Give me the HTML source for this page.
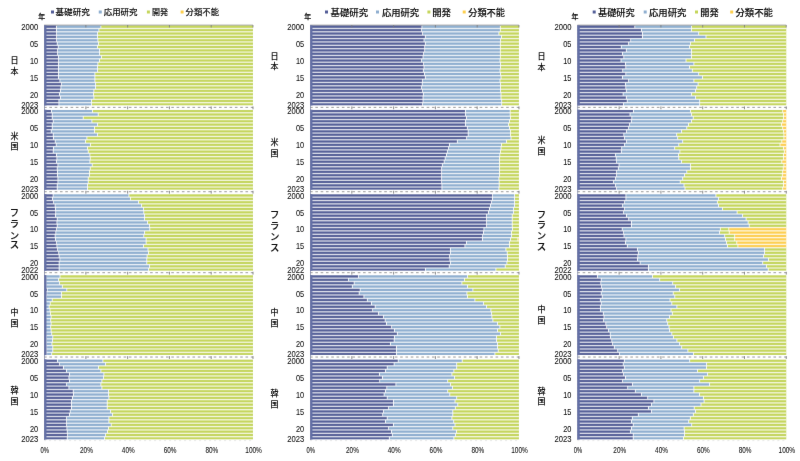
<!DOCTYPE html><html><head><meta charset="utf-8"><style>html,body{margin:0;padding:0;background:#fff;}svg{display:block}.n{font-family:"Liberation Sans",sans-serif;font-size:8.2px;fill:#111;stroke:#111;stroke-width:0.08px}.j{font-family:"Liberation Sans","Noto Sans CJK JP",sans-serif;fill:#111;stroke:#111;stroke-width:0.1px;font-weight:500}</style></head><body>
<svg width="800" height="461" viewBox="0 0 800 461">
<defs><filter id="bl" x="0" y="0" width="800" height="461" filterUnits="userSpaceOnUse"><feConvolveMatrix order="3" kernelMatrix="0.0028 0.0470 0.0028 0.0470 0.8008 0.0470 0.0028 0.0470 0.0028" divisor="1" edgeMode="duplicate" preserveAlpha="true"/></filter><filter id="tb" x="0" y="0" width="800" height="461" filterUnits="userSpaceOnUse"><feConvolveMatrix order="3" kernelMatrix="0.0016 0.0371 0.0016 0.0371 0.8450 0.0371 0.0016 0.0371 0.0016" divisor="1" edgeMode="duplicate" preserveAlpha="false"/></filter></defs>
<g filter="url(#bl)">
<rect width="800" height="461" fill="#fff"/>
<line x1="44.09" y1="25.2" x2="252.99" y2="25.2" stroke="#808080" stroke-width="0.9"/>
<rect x="44.09" y="25.6" width="11.91" height="2.77" fill="#535e98"/>
<rect x="56.8" y="25.6" width="43.7" height="2.77" fill="#8fafd0"/>
<rect x="101.3" y="25.6" width="151.69" height="2.77" fill="#c5d65c"/>
<rect x="44.09" y="28.37" width="11.91" height="3.37" fill="#535e98"/>
<rect x="56.8" y="28.37" width="41.7" height="3.37" fill="#8fafd0"/>
<rect x="99.3" y="28.37" width="153.69" height="3.37" fill="#c5d65c"/>
<rect x="44.09" y="31.75" width="12.11" height="3.37" fill="#535e98"/>
<rect x="57" y="31.75" width="40.2" height="3.37" fill="#8fafd0"/>
<rect x="98" y="31.75" width="154.99" height="3.37" fill="#c5d65c"/>
<rect x="44.09" y="35.12" width="12.11" height="3.37" fill="#535e98"/>
<rect x="57" y="35.12" width="40.2" height="3.37" fill="#8fafd0"/>
<rect x="98" y="35.12" width="154.99" height="3.37" fill="#c5d65c"/>
<rect x="44.09" y="38.5" width="12.11" height="3.37" fill="#535e98"/>
<rect x="57" y="38.5" width="40.5" height="3.37" fill="#8fafd0"/>
<rect x="98.3" y="38.5" width="154.69" height="3.37" fill="#c5d65c"/>
<rect x="44.09" y="41.87" width="12.71" height="3.37" fill="#535e98"/>
<rect x="57.6" y="41.87" width="40.4" height="3.37" fill="#8fafd0"/>
<rect x="98.8" y="41.87" width="154.19" height="3.37" fill="#c5d65c"/>
<rect x="44.09" y="45.24" width="13.71" height="3.37" fill="#535e98"/>
<rect x="58.6" y="45.24" width="38.4" height="3.37" fill="#8fafd0"/>
<rect x="97.8" y="45.24" width="155.19" height="3.37" fill="#c5d65c"/>
<rect x="44.09" y="48.62" width="13.11" height="3.37" fill="#535e98"/>
<rect x="58" y="48.62" width="41.2" height="3.37" fill="#8fafd0"/>
<rect x="100" y="48.62" width="152.99" height="3.37" fill="#c5d65c"/>
<rect x="44.09" y="51.99" width="13.11" height="3.37" fill="#535e98"/>
<rect x="58" y="51.99" width="41.2" height="3.37" fill="#8fafd0"/>
<rect x="100" y="51.99" width="152.99" height="3.37" fill="#c5d65c"/>
<rect x="44.09" y="55.37" width="13.91" height="3.37" fill="#535e98"/>
<rect x="58.8" y="55.37" width="42.2" height="3.37" fill="#8fafd0"/>
<rect x="101.8" y="55.37" width="151.19" height="3.37" fill="#c5d65c"/>
<rect x="44.09" y="58.74" width="14.11" height="3.37" fill="#535e98"/>
<rect x="59" y="58.74" width="40" height="3.37" fill="#8fafd0"/>
<rect x="99.8" y="58.74" width="153.19" height="3.37" fill="#c5d65c"/>
<rect x="44.09" y="62.11" width="13.91" height="3.37" fill="#535e98"/>
<rect x="58.8" y="62.11" width="38.7" height="3.37" fill="#8fafd0"/>
<rect x="98.3" y="62.11" width="154.69" height="3.37" fill="#c5d65c"/>
<rect x="44.09" y="65.49" width="13.91" height="3.37" fill="#535e98"/>
<rect x="58.8" y="65.49" width="38.4" height="3.37" fill="#8fafd0"/>
<rect x="98" y="65.49" width="154.99" height="3.37" fill="#c5d65c"/>
<rect x="44.09" y="68.86" width="13.91" height="3.37" fill="#535e98"/>
<rect x="58.8" y="68.86" width="38.4" height="3.37" fill="#8fafd0"/>
<rect x="98" y="68.86" width="154.99" height="3.37" fill="#c5d65c"/>
<rect x="44.09" y="72.24" width="13.91" height="3.37" fill="#535e98"/>
<rect x="58.8" y="72.24" width="35.7" height="3.37" fill="#8fafd0"/>
<rect x="95.3" y="72.24" width="157.69" height="3.37" fill="#c5d65c"/>
<rect x="44.09" y="75.61" width="13.91" height="3.37" fill="#535e98"/>
<rect x="58.8" y="75.61" width="35.7" height="3.37" fill="#8fafd0"/>
<rect x="95.3" y="75.61" width="157.69" height="3.37" fill="#c5d65c"/>
<rect x="44.09" y="78.98" width="15.41" height="3.37" fill="#535e98"/>
<rect x="60.3" y="78.98" width="34.2" height="3.37" fill="#8fafd0"/>
<rect x="95.3" y="78.98" width="157.69" height="3.37" fill="#c5d65c"/>
<rect x="44.09" y="82.36" width="17.11" height="3.37" fill="#535e98"/>
<rect x="62" y="82.36" width="33.2" height="3.37" fill="#8fafd0"/>
<rect x="96" y="82.36" width="156.99" height="3.37" fill="#c5d65c"/>
<rect x="44.09" y="85.73" width="16.41" height="3.37" fill="#535e98"/>
<rect x="61.3" y="85.73" width="33.9" height="3.37" fill="#8fafd0"/>
<rect x="96" y="85.73" width="156.99" height="3.37" fill="#c5d65c"/>
<rect x="44.09" y="89.11" width="15.91" height="3.37" fill="#535e98"/>
<rect x="60.8" y="89.11" width="32.7" height="3.37" fill="#8fafd0"/>
<rect x="94.3" y="89.11" width="158.69" height="3.37" fill="#c5d65c"/>
<rect x="44.09" y="92.48" width="14.91" height="3.37" fill="#535e98"/>
<rect x="59.8" y="92.48" width="33.2" height="3.37" fill="#8fafd0"/>
<rect x="93.8" y="92.48" width="159.19" height="3.37" fill="#c5d65c"/>
<rect x="44.09" y="95.85" width="15.91" height="3.37" fill="#535e98"/>
<rect x="60.8" y="95.85" width="32.7" height="3.37" fill="#8fafd0"/>
<rect x="94.3" y="95.85" width="158.69" height="3.37" fill="#c5d65c"/>
<rect x="44.09" y="99.23" width="14.41" height="3.37" fill="#535e98"/>
<rect x="59.3" y="99.23" width="31.9" height="3.37" fill="#8fafd0"/>
<rect x="92" y="99.23" width="160.99" height="3.37" fill="#c5d65c"/>
<rect x="44.09" y="102.6" width="14.41" height="2.7" fill="#535e98"/>
<rect x="59.3" y="102.6" width="31.9" height="2.7" fill="#8fafd0"/>
<rect x="92" y="102.6" width="160.99" height="2.7" fill="#c5d65c"/>
<rect x="44.09" y="109.95" width="6.91" height="2.77" fill="#535e98"/>
<rect x="51.8" y="109.95" width="40.2" height="2.77" fill="#8fafd0"/>
<rect x="92.8" y="109.95" width="160.19" height="2.77" fill="#c5d65c"/>
<rect x="44.09" y="112.72" width="7.71" height="3.37" fill="#535e98"/>
<rect x="52.6" y="112.72" width="45.2" height="3.37" fill="#8fafd0"/>
<rect x="98.6" y="112.72" width="154.39" height="3.37" fill="#c5d65c"/>
<rect x="44.09" y="116.1" width="7.71" height="3.37" fill="#535e98"/>
<rect x="52.6" y="116.1" width="30.2" height="3.37" fill="#8fafd0"/>
<rect x="83.6" y="116.1" width="169.39" height="3.37" fill="#c5d65c"/>
<rect x="44.09" y="119.47" width="8.71" height="3.37" fill="#535e98"/>
<rect x="53.6" y="119.47" width="37.9" height="3.37" fill="#8fafd0"/>
<rect x="92.3" y="119.47" width="160.69" height="3.37" fill="#c5d65c"/>
<rect x="44.09" y="122.85" width="7.71" height="3.37" fill="#535e98"/>
<rect x="52.6" y="122.85" width="44.6" height="3.37" fill="#8fafd0"/>
<rect x="98" y="122.85" width="154.99" height="3.37" fill="#c5d65c"/>
<rect x="44.09" y="126.22" width="7.71" height="3.37" fill="#535e98"/>
<rect x="52.6" y="126.22" width="41.4" height="3.37" fill="#8fafd0"/>
<rect x="94.8" y="126.22" width="158.19" height="3.37" fill="#c5d65c"/>
<rect x="44.09" y="129.59" width="6.71" height="3.37" fill="#535e98"/>
<rect x="51.6" y="129.59" width="42.4" height="3.37" fill="#8fafd0"/>
<rect x="94.8" y="129.59" width="158.19" height="3.37" fill="#c5d65c"/>
<rect x="44.09" y="132.97" width="8.71" height="3.37" fill="#535e98"/>
<rect x="53.6" y="132.97" width="43.6" height="3.37" fill="#8fafd0"/>
<rect x="98" y="132.97" width="154.99" height="3.37" fill="#c5d65c"/>
<rect x="44.09" y="136.34" width="8.91" height="3.37" fill="#535e98"/>
<rect x="53.8" y="136.34" width="32.7" height="3.37" fill="#8fafd0"/>
<rect x="87.3" y="136.34" width="165.69" height="3.37" fill="#c5d65c"/>
<rect x="44.09" y="139.72" width="10.71" height="3.37" fill="#535e98"/>
<rect x="55.6" y="139.72" width="29.4" height="3.37" fill="#8fafd0"/>
<rect x="85.8" y="139.72" width="167.19" height="3.37" fill="#c5d65c"/>
<rect x="44.09" y="143.09" width="11.71" height="3.37" fill="#535e98"/>
<rect x="56.6" y="143.09" width="33.4" height="3.37" fill="#8fafd0"/>
<rect x="90.8" y="143.09" width="162.19" height="3.37" fill="#c5d65c"/>
<rect x="44.09" y="146.46" width="8.91" height="3.37" fill="#535e98"/>
<rect x="53.8" y="146.46" width="33.2" height="3.37" fill="#8fafd0"/>
<rect x="87.8" y="146.46" width="165.19" height="3.37" fill="#c5d65c"/>
<rect x="44.09" y="149.84" width="8.71" height="3.37" fill="#535e98"/>
<rect x="53.6" y="149.84" width="34.2" height="3.37" fill="#8fafd0"/>
<rect x="88.6" y="149.84" width="164.39" height="3.37" fill="#c5d65c"/>
<rect x="44.09" y="153.21" width="11.91" height="3.37" fill="#535e98"/>
<rect x="56.8" y="153.21" width="32.7" height="3.37" fill="#8fafd0"/>
<rect x="90.3" y="153.21" width="162.69" height="3.37" fill="#c5d65c"/>
<rect x="44.09" y="156.59" width="12.41" height="3.37" fill="#535e98"/>
<rect x="57.3" y="156.59" width="32.5" height="3.37" fill="#8fafd0"/>
<rect x="90.6" y="156.59" width="162.39" height="3.37" fill="#c5d65c"/>
<rect x="44.09" y="159.96" width="11.91" height="3.37" fill="#535e98"/>
<rect x="56.8" y="159.96" width="32.7" height="3.37" fill="#8fafd0"/>
<rect x="90.3" y="159.96" width="162.69" height="3.37" fill="#c5d65c"/>
<rect x="44.09" y="163.33" width="13.41" height="3.37" fill="#535e98"/>
<rect x="58.3" y="163.33" width="33.5" height="3.37" fill="#8fafd0"/>
<rect x="92.6" y="163.33" width="160.39" height="3.37" fill="#c5d65c"/>
<rect x="44.09" y="166.71" width="12.71" height="3.37" fill="#535e98"/>
<rect x="57.6" y="166.71" width="32.2" height="3.37" fill="#8fafd0"/>
<rect x="90.6" y="166.71" width="162.39" height="3.37" fill="#c5d65c"/>
<rect x="44.09" y="170.08" width="12.91" height="3.37" fill="#535e98"/>
<rect x="57.8" y="170.08" width="31.2" height="3.37" fill="#8fafd0"/>
<rect x="89.8" y="170.08" width="163.19" height="3.37" fill="#c5d65c"/>
<rect x="44.09" y="173.46" width="12.91" height="3.37" fill="#535e98"/>
<rect x="57.8" y="173.46" width="31.2" height="3.37" fill="#8fafd0"/>
<rect x="89.8" y="173.46" width="163.19" height="3.37" fill="#c5d65c"/>
<rect x="44.09" y="176.83" width="13.41" height="3.37" fill="#535e98"/>
<rect x="58.3" y="176.83" width="29.5" height="3.37" fill="#8fafd0"/>
<rect x="88.6" y="176.83" width="164.39" height="3.37" fill="#c5d65c"/>
<rect x="44.09" y="180.2" width="13.41" height="3.37" fill="#535e98"/>
<rect x="58.3" y="180.2" width="29.5" height="3.37" fill="#8fafd0"/>
<rect x="88.6" y="180.2" width="164.39" height="3.37" fill="#c5d65c"/>
<rect x="44.09" y="183.58" width="12.71" height="3.37" fill="#535e98"/>
<rect x="57.6" y="183.58" width="29.6" height="3.37" fill="#8fafd0"/>
<rect x="88" y="183.58" width="164.99" height="3.37" fill="#c5d65c"/>
<rect x="44.09" y="186.95" width="12.71" height="2.7" fill="#535e98"/>
<rect x="57.6" y="186.95" width="29.6" height="2.7" fill="#8fafd0"/>
<rect x="88" y="186.95" width="164.99" height="2.7" fill="#c5d65c"/>
<rect x="44.09" y="194.3" width="8.61" height="2.77" fill="#535e98"/>
<rect x="53.5" y="194.3" width="75" height="2.77" fill="#8fafd0"/>
<rect x="129.3" y="194.3" width="123.69" height="2.77" fill="#c5d65c"/>
<rect x="44.09" y="197.07" width="7.91" height="3.37" fill="#535e98"/>
<rect x="52.8" y="197.07" width="77.2" height="3.37" fill="#8fafd0"/>
<rect x="130.8" y="197.07" width="122.19" height="3.37" fill="#c5d65c"/>
<rect x="44.09" y="200.45" width="9.11" height="3.37" fill="#535e98"/>
<rect x="54" y="200.45" width="84.2" height="3.37" fill="#8fafd0"/>
<rect x="139" y="200.45" width="113.99" height="3.37" fill="#c5d65c"/>
<rect x="44.09" y="203.82" width="10.61" height="3.37" fill="#535e98"/>
<rect x="55.5" y="203.82" width="85.7" height="3.37" fill="#8fafd0"/>
<rect x="142" y="203.82" width="110.99" height="3.37" fill="#c5d65c"/>
<rect x="44.09" y="207.2" width="10.91" height="3.37" fill="#535e98"/>
<rect x="55.8" y="207.2" width="87.3" height="3.37" fill="#8fafd0"/>
<rect x="143.9" y="207.2" width="109.09" height="3.37" fill="#c5d65c"/>
<rect x="44.09" y="210.57" width="11.21" height="3.37" fill="#535e98"/>
<rect x="56.1" y="210.57" width="87.3" height="3.37" fill="#8fafd0"/>
<rect x="144.2" y="210.57" width="108.79" height="3.37" fill="#c5d65c"/>
<rect x="44.09" y="213.94" width="10.91" height="3.37" fill="#535e98"/>
<rect x="55.8" y="213.94" width="88.4" height="3.37" fill="#8fafd0"/>
<rect x="145" y="213.94" width="107.99" height="3.37" fill="#c5d65c"/>
<rect x="44.09" y="217.32" width="12.71" height="3.37" fill="#535e98"/>
<rect x="57.6" y="217.32" width="86.6" height="3.37" fill="#8fafd0"/>
<rect x="145" y="217.32" width="107.99" height="3.37" fill="#c5d65c"/>
<rect x="44.09" y="220.69" width="12.41" height="3.37" fill="#535e98"/>
<rect x="57.3" y="220.69" width="89.9" height="3.37" fill="#8fafd0"/>
<rect x="148" y="220.69" width="104.99" height="3.37" fill="#c5d65c"/>
<rect x="44.09" y="224.07" width="12.71" height="3.37" fill="#535e98"/>
<rect x="57.6" y="224.07" width="91.5" height="3.37" fill="#8fafd0"/>
<rect x="149.9" y="224.07" width="103.09" height="3.37" fill="#c5d65c"/>
<rect x="44.09" y="227.44" width="12.11" height="3.37" fill="#535e98"/>
<rect x="57" y="227.44" width="92.4" height="3.37" fill="#8fafd0"/>
<rect x="150.2" y="227.44" width="102.79" height="3.37" fill="#c5d65c"/>
<rect x="44.09" y="230.81" width="11.31" height="3.37" fill="#535e98"/>
<rect x="56.2" y="230.81" width="88" height="3.37" fill="#8fafd0"/>
<rect x="145" y="230.81" width="107.99" height="3.37" fill="#c5d65c"/>
<rect x="44.09" y="234.19" width="10.61" height="3.37" fill="#535e98"/>
<rect x="55.5" y="234.19" width="87.9" height="3.37" fill="#8fafd0"/>
<rect x="144.2" y="234.19" width="108.79" height="3.37" fill="#c5d65c"/>
<rect x="44.09" y="237.56" width="10.91" height="3.37" fill="#535e98"/>
<rect x="55.8" y="237.56" width="89.9" height="3.37" fill="#8fafd0"/>
<rect x="146.5" y="237.56" width="106.49" height="3.37" fill="#c5d65c"/>
<rect x="44.09" y="240.93" width="12.11" height="3.37" fill="#535e98"/>
<rect x="57" y="240.93" width="88.7" height="3.37" fill="#8fafd0"/>
<rect x="146.5" y="240.93" width="106.49" height="3.37" fill="#c5d65c"/>
<rect x="44.09" y="244.31" width="12.41" height="3.37" fill="#535e98"/>
<rect x="57.3" y="244.31" width="85.8" height="3.37" fill="#8fafd0"/>
<rect x="143.9" y="244.31" width="109.09" height="3.37" fill="#c5d65c"/>
<rect x="44.09" y="247.68" width="13.11" height="3.37" fill="#535e98"/>
<rect x="58" y="247.68" width="89.6" height="3.37" fill="#8fafd0"/>
<rect x="148.4" y="247.68" width="104.59" height="3.37" fill="#c5d65c"/>
<rect x="44.09" y="251.06" width="14.21" height="3.37" fill="#535e98"/>
<rect x="59.1" y="251.06" width="88.9" height="3.37" fill="#8fafd0"/>
<rect x="148.8" y="251.06" width="104.19" height="3.37" fill="#c5d65c"/>
<rect x="44.09" y="254.43" width="14.61" height="3.37" fill="#535e98"/>
<rect x="59.5" y="254.43" width="87.2" height="3.37" fill="#8fafd0"/>
<rect x="147.5" y="254.43" width="105.49" height="3.37" fill="#c5d65c"/>
<rect x="44.09" y="257.8" width="15.41" height="3.37" fill="#535e98"/>
<rect x="60.3" y="257.8" width="86.1" height="3.37" fill="#8fafd0"/>
<rect x="147.2" y="257.8" width="105.79" height="3.37" fill="#c5d65c"/>
<rect x="44.09" y="261.18" width="14.61" height="3.37" fill="#535e98"/>
<rect x="59.5" y="261.18" width="86.9" height="3.37" fill="#8fafd0"/>
<rect x="147.2" y="261.18" width="105.79" height="3.37" fill="#c5d65c"/>
<rect x="44.09" y="264.55" width="14.61" height="3.37" fill="#535e98"/>
<rect x="59.5" y="264.55" width="89.6" height="3.37" fill="#8fafd0"/>
<rect x="149.9" y="264.55" width="103.09" height="3.37" fill="#c5d65c"/>
<rect x="44.09" y="267.93" width="14.61" height="2.7" fill="#535e98"/>
<rect x="59.5" y="267.93" width="88.7" height="2.7" fill="#8fafd0"/>
<rect x="149" y="267.93" width="103.99" height="2.7" fill="#c5d65c"/>
<rect x="44.09" y="275.27" width="1.51" height="2.77" fill="#535e98"/>
<rect x="46.4" y="275.27" width="13.2" height="2.77" fill="#8fafd0"/>
<rect x="60.4" y="275.27" width="192.59" height="2.77" fill="#c5d65c"/>
<rect x="44.09" y="278.05" width="1.41" height="3.37" fill="#535e98"/>
<rect x="46.3" y="278.05" width="11.9" height="3.37" fill="#8fafd0"/>
<rect x="59" y="278.05" width="193.99" height="3.37" fill="#c5d65c"/>
<rect x="44.09" y="281.42" width="1.51" height="3.37" fill="#535e98"/>
<rect x="46.4" y="281.42" width="12.7" height="3.37" fill="#8fafd0"/>
<rect x="59.9" y="281.42" width="193.09" height="3.37" fill="#c5d65c"/>
<rect x="44.09" y="284.8" width="1.51" height="3.37" fill="#535e98"/>
<rect x="46.4" y="284.8" width="15.5" height="3.37" fill="#8fafd0"/>
<rect x="62.7" y="284.8" width="190.29" height="3.37" fill="#c5d65c"/>
<rect x="44.09" y="288.17" width="2.71" height="3.37" fill="#535e98"/>
<rect x="47.6" y="288.17" width="18.8" height="3.37" fill="#8fafd0"/>
<rect x="67.2" y="288.17" width="185.79" height="3.37" fill="#c5d65c"/>
<rect x="44.09" y="291.54" width="2.31" height="3.37" fill="#535e98"/>
<rect x="47.2" y="291.54" width="13.9" height="3.37" fill="#8fafd0"/>
<rect x="61.9" y="291.54" width="191.09" height="3.37" fill="#c5d65c"/>
<rect x="44.09" y="294.92" width="1.71" height="3.37" fill="#535e98"/>
<rect x="46.6" y="294.92" width="14.5" height="3.37" fill="#8fafd0"/>
<rect x="61.9" y="294.92" width="191.09" height="3.37" fill="#c5d65c"/>
<rect x="44.09" y="298.29" width="1.51" height="3.37" fill="#535e98"/>
<rect x="46.4" y="298.29" width="5.4" height="3.37" fill="#8fafd0"/>
<rect x="52.6" y="298.29" width="200.39" height="3.37" fill="#c5d65c"/>
<rect x="44.09" y="301.67" width="1.21" height="3.37" fill="#535e98"/>
<rect x="46.1" y="301.67" width="3.7" height="3.37" fill="#8fafd0"/>
<rect x="50.6" y="301.67" width="202.39" height="3.37" fill="#c5d65c"/>
<rect x="44.09" y="305.04" width="1.21" height="3.37" fill="#535e98"/>
<rect x="46.1" y="305.04" width="2.6" height="3.37" fill="#8fafd0"/>
<rect x="49.5" y="305.04" width="203.49" height="3.37" fill="#c5d65c"/>
<rect x="44.09" y="308.41" width="1.21" height="3.37" fill="#535e98"/>
<rect x="46.1" y="308.41" width="3.5" height="3.37" fill="#8fafd0"/>
<rect x="50.4" y="308.41" width="202.59" height="3.37" fill="#c5d65c"/>
<rect x="44.09" y="311.79" width="1.21" height="3.37" fill="#535e98"/>
<rect x="46.1" y="311.79" width="3.9" height="3.37" fill="#8fafd0"/>
<rect x="50.8" y="311.79" width="202.19" height="3.37" fill="#c5d65c"/>
<rect x="44.09" y="315.16" width="1.21" height="3.37" fill="#535e98"/>
<rect x="46.1" y="315.16" width="4.6" height="3.37" fill="#8fafd0"/>
<rect x="51.5" y="315.16" width="201.49" height="3.37" fill="#c5d65c"/>
<rect x="44.09" y="318.54" width="1.21" height="3.37" fill="#535e98"/>
<rect x="46.1" y="318.54" width="4.2" height="3.37" fill="#8fafd0"/>
<rect x="51.1" y="318.54" width="201.89" height="3.37" fill="#c5d65c"/>
<rect x="44.09" y="321.91" width="1.21" height="3.37" fill="#535e98"/>
<rect x="46.1" y="321.91" width="4.6" height="3.37" fill="#8fafd0"/>
<rect x="51.5" y="321.91" width="201.49" height="3.37" fill="#c5d65c"/>
<rect x="44.09" y="325.28" width="1.21" height="3.37" fill="#535e98"/>
<rect x="46.1" y="325.28" width="4.2" height="3.37" fill="#8fafd0"/>
<rect x="51.1" y="325.28" width="201.89" height="3.37" fill="#c5d65c"/>
<rect x="44.09" y="328.66" width="1.21" height="3.37" fill="#535e98"/>
<rect x="46.1" y="328.66" width="4.6" height="3.37" fill="#8fafd0"/>
<rect x="51.5" y="328.66" width="201.49" height="3.37" fill="#c5d65c"/>
<rect x="44.09" y="332.03" width="1.41" height="3.37" fill="#535e98"/>
<rect x="46.3" y="332.03" width="5" height="3.37" fill="#8fafd0"/>
<rect x="52.1" y="332.03" width="200.89" height="3.37" fill="#c5d65c"/>
<rect x="44.09" y="335.41" width="1.71" height="3.37" fill="#535e98"/>
<rect x="46.6" y="335.41" width="5.8" height="3.37" fill="#8fafd0"/>
<rect x="53.2" y="335.41" width="199.79" height="3.37" fill="#c5d65c"/>
<rect x="44.09" y="338.78" width="1.71" height="3.37" fill="#535e98"/>
<rect x="46.6" y="338.78" width="5.6" height="3.37" fill="#8fafd0"/>
<rect x="53" y="338.78" width="199.99" height="3.37" fill="#c5d65c"/>
<rect x="44.09" y="342.15" width="1.71" height="3.37" fill="#535e98"/>
<rect x="46.6" y="342.15" width="4.9" height="3.37" fill="#8fafd0"/>
<rect x="52.3" y="342.15" width="200.69" height="3.37" fill="#c5d65c"/>
<rect x="44.09" y="345.53" width="2.21" height="3.37" fill="#535e98"/>
<rect x="47.1" y="345.53" width="5.3" height="3.37" fill="#8fafd0"/>
<rect x="53.2" y="345.53" width="199.79" height="3.37" fill="#c5d65c"/>
<rect x="44.09" y="348.9" width="2.21" height="3.37" fill="#535e98"/>
<rect x="47.1" y="348.9" width="5.3" height="3.37" fill="#8fafd0"/>
<rect x="53.2" y="348.9" width="199.79" height="3.37" fill="#c5d65c"/>
<rect x="44.09" y="352.28" width="2.21" height="2.7" fill="#535e98"/>
<rect x="47.1" y="352.28" width="4.2" height="2.7" fill="#8fafd0"/>
<rect x="52.1" y="352.28" width="200.89" height="2.7" fill="#c5d65c"/>
<rect x="44.09" y="359.62" width="12.91" height="2.77" fill="#535e98"/>
<rect x="57.8" y="359.62" width="44.7" height="2.77" fill="#8fafd0"/>
<rect x="103.3" y="359.62" width="149.69" height="2.77" fill="#c5d65c"/>
<rect x="44.09" y="362.4" width="15.11" height="3.37" fill="#535e98"/>
<rect x="60" y="362.4" width="45.2" height="3.37" fill="#8fafd0"/>
<rect x="106" y="362.4" width="146.99" height="3.37" fill="#c5d65c"/>
<rect x="44.09" y="365.77" width="18.91" height="3.37" fill="#535e98"/>
<rect x="63.8" y="365.77" width="34.2" height="3.37" fill="#8fafd0"/>
<rect x="98.8" y="365.77" width="154.19" height="3.37" fill="#c5d65c"/>
<rect x="44.09" y="369.15" width="21.91" height="3.37" fill="#535e98"/>
<rect x="66.8" y="369.15" width="33.7" height="3.37" fill="#8fafd0"/>
<rect x="101.3" y="369.15" width="151.69" height="3.37" fill="#c5d65c"/>
<rect x="44.09" y="372.52" width="24.91" height="3.37" fill="#535e98"/>
<rect x="69.8" y="372.52" width="33.7" height="3.37" fill="#8fafd0"/>
<rect x="104.3" y="372.52" width="148.69" height="3.37" fill="#c5d65c"/>
<rect x="44.09" y="375.89" width="24.41" height="3.37" fill="#535e98"/>
<rect x="69.3" y="375.89" width="33.9" height="3.37" fill="#8fafd0"/>
<rect x="104" y="375.89" width="148.99" height="3.37" fill="#c5d65c"/>
<rect x="44.09" y="379.27" width="24.91" height="3.37" fill="#535e98"/>
<rect x="69.8" y="379.27" width="31.7" height="3.37" fill="#8fafd0"/>
<rect x="102.3" y="379.27" width="150.69" height="3.37" fill="#c5d65c"/>
<rect x="44.09" y="382.64" width="22.11" height="3.37" fill="#535e98"/>
<rect x="67" y="382.64" width="33.5" height="3.37" fill="#8fafd0"/>
<rect x="101.3" y="382.64" width="151.69" height="3.37" fill="#c5d65c"/>
<rect x="44.09" y="386.02" width="24.41" height="3.37" fill="#535e98"/>
<rect x="69.3" y="386.02" width="32.2" height="3.37" fill="#8fafd0"/>
<rect x="102.3" y="386.02" width="150.69" height="3.37" fill="#c5d65c"/>
<rect x="44.09" y="389.39" width="28.71" height="3.37" fill="#535e98"/>
<rect x="73.6" y="389.39" width="34.6" height="3.37" fill="#8fafd0"/>
<rect x="109" y="389.39" width="143.99" height="3.37" fill="#c5d65c"/>
<rect x="44.09" y="392.76" width="28.91" height="3.37" fill="#535e98"/>
<rect x="73.8" y="392.76" width="34.4" height="3.37" fill="#8fafd0"/>
<rect x="109" y="392.76" width="143.99" height="3.37" fill="#c5d65c"/>
<rect x="44.09" y="396.14" width="27.91" height="3.37" fill="#535e98"/>
<rect x="72.8" y="396.14" width="35.7" height="3.37" fill="#8fafd0"/>
<rect x="109.3" y="396.14" width="143.69" height="3.37" fill="#c5d65c"/>
<rect x="44.09" y="399.51" width="26.91" height="3.37" fill="#535e98"/>
<rect x="71.8" y="399.51" width="35" height="3.37" fill="#8fafd0"/>
<rect x="107.6" y="399.51" width="145.39" height="3.37" fill="#c5d65c"/>
<rect x="44.09" y="402.89" width="26.91" height="3.37" fill="#535e98"/>
<rect x="71.8" y="402.89" width="35" height="3.37" fill="#8fafd0"/>
<rect x="107.6" y="402.89" width="145.39" height="3.37" fill="#c5d65c"/>
<rect x="44.09" y="406.26" width="26.91" height="3.37" fill="#535e98"/>
<rect x="71.8" y="406.26" width="35" height="3.37" fill="#8fafd0"/>
<rect x="107.6" y="406.26" width="145.39" height="3.37" fill="#c5d65c"/>
<rect x="44.09" y="409.63" width="25.71" height="3.37" fill="#535e98"/>
<rect x="70.6" y="409.63" width="39.6" height="3.37" fill="#8fafd0"/>
<rect x="111" y="409.63" width="141.99" height="3.37" fill="#c5d65c"/>
<rect x="44.09" y="413.01" width="24.91" height="3.37" fill="#535e98"/>
<rect x="69.8" y="413.01" width="42.2" height="3.37" fill="#8fafd0"/>
<rect x="112.8" y="413.01" width="140.19" height="3.37" fill="#c5d65c"/>
<rect x="44.09" y="416.38" width="22.11" height="3.37" fill="#535e98"/>
<rect x="67" y="416.38" width="41.5" height="3.37" fill="#8fafd0"/>
<rect x="109.3" y="416.38" width="143.69" height="3.37" fill="#c5d65c"/>
<rect x="44.09" y="419.76" width="22.11" height="3.37" fill="#535e98"/>
<rect x="67" y="419.76" width="41.5" height="3.37" fill="#8fafd0"/>
<rect x="109.3" y="419.76" width="143.69" height="3.37" fill="#c5d65c"/>
<rect x="44.09" y="423.13" width="22.11" height="3.37" fill="#535e98"/>
<rect x="67" y="423.13" width="43.8" height="3.37" fill="#8fafd0"/>
<rect x="111.6" y="423.13" width="141.39" height="3.37" fill="#c5d65c"/>
<rect x="44.09" y="426.5" width="22.41" height="3.37" fill="#535e98"/>
<rect x="67.3" y="426.5" width="40.7" height="3.37" fill="#8fafd0"/>
<rect x="108.8" y="426.5" width="144.19" height="3.37" fill="#c5d65c"/>
<rect x="44.09" y="429.88" width="22.71" height="3.37" fill="#535e98"/>
<rect x="67.6" y="429.88" width="39.4" height="3.37" fill="#8fafd0"/>
<rect x="107.8" y="429.88" width="145.19" height="3.37" fill="#c5d65c"/>
<rect x="44.09" y="433.25" width="23.11" height="3.37" fill="#535e98"/>
<rect x="68" y="433.25" width="37.2" height="3.37" fill="#8fafd0"/>
<rect x="106" y="433.25" width="146.99" height="3.37" fill="#c5d65c"/>
<rect x="44.09" y="436.63" width="22.71" height="2.7" fill="#535e98"/>
<rect x="67.6" y="436.63" width="36.6" height="2.7" fill="#8fafd0"/>
<rect x="105" y="436.63" width="147.99" height="2.7" fill="#c5d65c"/>
<rect x="44.09" y="27.8" width="208.9" height="1.35" fill="#fff" fill-opacity="0.7"/>
<rect x="44.09" y="31.17" width="208.9" height="1.35" fill="#fff" fill-opacity="0.7"/>
<rect x="44.09" y="34.55" width="208.9" height="1.35" fill="#fff" fill-opacity="0.7"/>
<rect x="44.09" y="37.92" width="208.9" height="1.35" fill="#fff" fill-opacity="0.7"/>
<rect x="44.09" y="41.29" width="208.9" height="1.35" fill="#fff" fill-opacity="0.7"/>
<rect x="44.09" y="44.67" width="208.9" height="1.35" fill="#fff" fill-opacity="0.7"/>
<rect x="44.09" y="48.04" width="208.9" height="1.35" fill="#fff" fill-opacity="0.7"/>
<rect x="44.09" y="51.42" width="208.9" height="1.35" fill="#fff" fill-opacity="0.7"/>
<rect x="44.09" y="54.79" width="208.9" height="1.35" fill="#fff" fill-opacity="0.7"/>
<rect x="44.09" y="58.16" width="208.9" height="1.35" fill="#fff" fill-opacity="0.7"/>
<rect x="44.09" y="61.54" width="208.9" height="1.35" fill="#fff" fill-opacity="0.7"/>
<rect x="44.09" y="64.91" width="208.9" height="1.35" fill="#fff" fill-opacity="0.7"/>
<rect x="44.09" y="68.29" width="208.9" height="1.35" fill="#fff" fill-opacity="0.7"/>
<rect x="44.09" y="71.66" width="208.9" height="1.35" fill="#fff" fill-opacity="0.7"/>
<rect x="44.09" y="75.03" width="208.9" height="1.35" fill="#fff" fill-opacity="0.7"/>
<rect x="44.09" y="78.41" width="208.9" height="1.35" fill="#fff" fill-opacity="0.7"/>
<rect x="44.09" y="81.78" width="208.9" height="1.35" fill="#fff" fill-opacity="0.7"/>
<rect x="44.09" y="85.16" width="208.9" height="1.35" fill="#fff" fill-opacity="0.7"/>
<rect x="44.09" y="88.53" width="208.9" height="1.35" fill="#fff" fill-opacity="0.7"/>
<rect x="44.09" y="91.9" width="208.9" height="1.35" fill="#fff" fill-opacity="0.7"/>
<rect x="44.09" y="95.28" width="208.9" height="1.35" fill="#fff" fill-opacity="0.7"/>
<rect x="44.09" y="98.65" width="208.9" height="1.35" fill="#fff" fill-opacity="0.7"/>
<rect x="44.09" y="102.03" width="208.9" height="1.35" fill="#fff" fill-opacity="0.7"/>
<rect x="44.09" y="112.15" width="208.9" height="1.35" fill="#fff" fill-opacity="0.7"/>
<rect x="44.09" y="115.52" width="208.9" height="1.35" fill="#fff" fill-opacity="0.7"/>
<rect x="44.09" y="118.9" width="208.9" height="1.35" fill="#fff" fill-opacity="0.7"/>
<rect x="44.09" y="122.27" width="208.9" height="1.35" fill="#fff" fill-opacity="0.7"/>
<rect x="44.09" y="125.64" width="208.9" height="1.35" fill="#fff" fill-opacity="0.7"/>
<rect x="44.09" y="129.02" width="208.9" height="1.35" fill="#fff" fill-opacity="0.7"/>
<rect x="44.09" y="132.39" width="208.9" height="1.35" fill="#fff" fill-opacity="0.7"/>
<rect x="44.09" y="135.77" width="208.9" height="1.35" fill="#fff" fill-opacity="0.7"/>
<rect x="44.09" y="139.14" width="208.9" height="1.35" fill="#fff" fill-opacity="0.7"/>
<rect x="44.09" y="142.51" width="208.9" height="1.35" fill="#fff" fill-opacity="0.7"/>
<rect x="44.09" y="145.89" width="208.9" height="1.35" fill="#fff" fill-opacity="0.7"/>
<rect x="44.09" y="149.26" width="208.9" height="1.35" fill="#fff" fill-opacity="0.7"/>
<rect x="44.09" y="152.64" width="208.9" height="1.35" fill="#fff" fill-opacity="0.7"/>
<rect x="44.09" y="156.01" width="208.9" height="1.35" fill="#fff" fill-opacity="0.7"/>
<rect x="44.09" y="159.38" width="208.9" height="1.35" fill="#fff" fill-opacity="0.7"/>
<rect x="44.09" y="162.76" width="208.9" height="1.35" fill="#fff" fill-opacity="0.7"/>
<rect x="44.09" y="166.13" width="208.9" height="1.35" fill="#fff" fill-opacity="0.7"/>
<rect x="44.09" y="169.51" width="208.9" height="1.35" fill="#fff" fill-opacity="0.7"/>
<rect x="44.09" y="172.88" width="208.9" height="1.35" fill="#fff" fill-opacity="0.7"/>
<rect x="44.09" y="176.25" width="208.9" height="1.35" fill="#fff" fill-opacity="0.7"/>
<rect x="44.09" y="179.63" width="208.9" height="1.35" fill="#fff" fill-opacity="0.7"/>
<rect x="44.09" y="183" width="208.9" height="1.35" fill="#fff" fill-opacity="0.7"/>
<rect x="44.09" y="186.38" width="208.9" height="1.35" fill="#fff" fill-opacity="0.7"/>
<rect x="44.09" y="196.5" width="208.9" height="1.35" fill="#fff" fill-opacity="0.7"/>
<rect x="44.09" y="199.87" width="208.9" height="1.35" fill="#fff" fill-opacity="0.7"/>
<rect x="44.09" y="203.25" width="208.9" height="1.35" fill="#fff" fill-opacity="0.7"/>
<rect x="44.09" y="206.62" width="208.9" height="1.35" fill="#fff" fill-opacity="0.7"/>
<rect x="44.09" y="209.99" width="208.9" height="1.35" fill="#fff" fill-opacity="0.7"/>
<rect x="44.09" y="213.37" width="208.9" height="1.35" fill="#fff" fill-opacity="0.7"/>
<rect x="44.09" y="216.74" width="208.9" height="1.35" fill="#fff" fill-opacity="0.7"/>
<rect x="44.09" y="220.12" width="208.9" height="1.35" fill="#fff" fill-opacity="0.7"/>
<rect x="44.09" y="223.49" width="208.9" height="1.35" fill="#fff" fill-opacity="0.7"/>
<rect x="44.09" y="226.86" width="208.9" height="1.35" fill="#fff" fill-opacity="0.7"/>
<rect x="44.09" y="230.24" width="208.9" height="1.35" fill="#fff" fill-opacity="0.7"/>
<rect x="44.09" y="233.61" width="208.9" height="1.35" fill="#fff" fill-opacity="0.7"/>
<rect x="44.09" y="236.99" width="208.9" height="1.35" fill="#fff" fill-opacity="0.7"/>
<rect x="44.09" y="240.36" width="208.9" height="1.35" fill="#fff" fill-opacity="0.7"/>
<rect x="44.09" y="243.73" width="208.9" height="1.35" fill="#fff" fill-opacity="0.7"/>
<rect x="44.09" y="247.11" width="208.9" height="1.35" fill="#fff" fill-opacity="0.7"/>
<rect x="44.09" y="250.48" width="208.9" height="1.35" fill="#fff" fill-opacity="0.7"/>
<rect x="44.09" y="253.86" width="208.9" height="1.35" fill="#fff" fill-opacity="0.7"/>
<rect x="44.09" y="257.23" width="208.9" height="1.35" fill="#fff" fill-opacity="0.7"/>
<rect x="44.09" y="260.6" width="208.9" height="1.35" fill="#fff" fill-opacity="0.7"/>
<rect x="44.09" y="263.98" width="208.9" height="1.35" fill="#fff" fill-opacity="0.7"/>
<rect x="44.09" y="267.35" width="208.9" height="1.35" fill="#fff" fill-opacity="0.7"/>
<rect x="44.09" y="277.47" width="208.9" height="1.35" fill="#fff" fill-opacity="0.7"/>
<rect x="44.09" y="280.85" width="208.9" height="1.35" fill="#fff" fill-opacity="0.7"/>
<rect x="44.09" y="284.22" width="208.9" height="1.35" fill="#fff" fill-opacity="0.7"/>
<rect x="44.09" y="287.6" width="208.9" height="1.35" fill="#fff" fill-opacity="0.7"/>
<rect x="44.09" y="290.97" width="208.9" height="1.35" fill="#fff" fill-opacity="0.7"/>
<rect x="44.09" y="294.34" width="208.9" height="1.35" fill="#fff" fill-opacity="0.7"/>
<rect x="44.09" y="297.72" width="208.9" height="1.35" fill="#fff" fill-opacity="0.7"/>
<rect x="44.09" y="301.09" width="208.9" height="1.35" fill="#fff" fill-opacity="0.7"/>
<rect x="44.09" y="304.47" width="208.9" height="1.35" fill="#fff" fill-opacity="0.7"/>
<rect x="44.09" y="307.84" width="208.9" height="1.35" fill="#fff" fill-opacity="0.7"/>
<rect x="44.09" y="311.21" width="208.9" height="1.35" fill="#fff" fill-opacity="0.7"/>
<rect x="44.09" y="314.59" width="208.9" height="1.35" fill="#fff" fill-opacity="0.7"/>
<rect x="44.09" y="317.96" width="208.9" height="1.35" fill="#fff" fill-opacity="0.7"/>
<rect x="44.09" y="321.34" width="208.9" height="1.35" fill="#fff" fill-opacity="0.7"/>
<rect x="44.09" y="324.71" width="208.9" height="1.35" fill="#fff" fill-opacity="0.7"/>
<rect x="44.09" y="328.08" width="208.9" height="1.35" fill="#fff" fill-opacity="0.7"/>
<rect x="44.09" y="331.46" width="208.9" height="1.35" fill="#fff" fill-opacity="0.7"/>
<rect x="44.09" y="334.83" width="208.9" height="1.35" fill="#fff" fill-opacity="0.7"/>
<rect x="44.09" y="338.21" width="208.9" height="1.35" fill="#fff" fill-opacity="0.7"/>
<rect x="44.09" y="341.58" width="208.9" height="1.35" fill="#fff" fill-opacity="0.7"/>
<rect x="44.09" y="344.95" width="208.9" height="1.35" fill="#fff" fill-opacity="0.7"/>
<rect x="44.09" y="348.33" width="208.9" height="1.35" fill="#fff" fill-opacity="0.7"/>
<rect x="44.09" y="351.7" width="208.9" height="1.35" fill="#fff" fill-opacity="0.7"/>
<rect x="44.09" y="361.82" width="208.9" height="1.35" fill="#fff" fill-opacity="0.7"/>
<rect x="44.09" y="365.2" width="208.9" height="1.35" fill="#fff" fill-opacity="0.7"/>
<rect x="44.09" y="368.57" width="208.9" height="1.35" fill="#fff" fill-opacity="0.7"/>
<rect x="44.09" y="371.95" width="208.9" height="1.35" fill="#fff" fill-opacity="0.7"/>
<rect x="44.09" y="375.32" width="208.9" height="1.35" fill="#fff" fill-opacity="0.7"/>
<rect x="44.09" y="378.69" width="208.9" height="1.35" fill="#fff" fill-opacity="0.7"/>
<rect x="44.09" y="382.07" width="208.9" height="1.35" fill="#fff" fill-opacity="0.7"/>
<rect x="44.09" y="385.44" width="208.9" height="1.35" fill="#fff" fill-opacity="0.7"/>
<rect x="44.09" y="388.82" width="208.9" height="1.35" fill="#fff" fill-opacity="0.7"/>
<rect x="44.09" y="392.19" width="208.9" height="1.35" fill="#fff" fill-opacity="0.7"/>
<rect x="44.09" y="395.56" width="208.9" height="1.35" fill="#fff" fill-opacity="0.7"/>
<rect x="44.09" y="398.94" width="208.9" height="1.35" fill="#fff" fill-opacity="0.7"/>
<rect x="44.09" y="402.31" width="208.9" height="1.35" fill="#fff" fill-opacity="0.7"/>
<rect x="44.09" y="405.69" width="208.9" height="1.35" fill="#fff" fill-opacity="0.7"/>
<rect x="44.09" y="409.06" width="208.9" height="1.35" fill="#fff" fill-opacity="0.7"/>
<rect x="44.09" y="412.43" width="208.9" height="1.35" fill="#fff" fill-opacity="0.7"/>
<rect x="44.09" y="415.81" width="208.9" height="1.35" fill="#fff" fill-opacity="0.7"/>
<rect x="44.09" y="419.18" width="208.9" height="1.35" fill="#fff" fill-opacity="0.7"/>
<rect x="44.09" y="422.56" width="208.9" height="1.35" fill="#fff" fill-opacity="0.7"/>
<rect x="44.09" y="425.93" width="208.9" height="1.35" fill="#fff" fill-opacity="0.7"/>
<rect x="44.09" y="429.3" width="208.9" height="1.35" fill="#fff" fill-opacity="0.7"/>
<rect x="44.09" y="432.68" width="208.9" height="1.35" fill="#fff" fill-opacity="0.7"/>
<rect x="44.09" y="436.05" width="208.9" height="1.35" fill="#fff" fill-opacity="0.7"/>
<line x1="44.09" y1="107.36" x2="252.99" y2="107.36" stroke="#7e7e7e" stroke-width="0.8" stroke-dasharray="2.6 2.7"/>
<line x1="85.87" y1="106.46" x2="85.87" y2="109.26" stroke="#666" stroke-width="0.8"/>
<line x1="127.65" y1="106.46" x2="127.65" y2="109.26" stroke="#666" stroke-width="0.8"/>
<line x1="169.43" y1="106.46" x2="169.43" y2="109.26" stroke="#666" stroke-width="0.8"/>
<line x1="211.21" y1="106.46" x2="211.21" y2="109.26" stroke="#666" stroke-width="0.8"/>
<line x1="252.99" y1="106.46" x2="252.99" y2="109.26" stroke="#666" stroke-width="0.8"/>
<line x1="44.09" y1="191.71" x2="252.99" y2="191.71" stroke="#7e7e7e" stroke-width="0.8" stroke-dasharray="2.6 2.7"/>
<line x1="85.87" y1="190.81" x2="85.87" y2="193.61" stroke="#666" stroke-width="0.8"/>
<line x1="127.65" y1="190.81" x2="127.65" y2="193.61" stroke="#666" stroke-width="0.8"/>
<line x1="169.43" y1="190.81" x2="169.43" y2="193.61" stroke="#666" stroke-width="0.8"/>
<line x1="211.21" y1="190.81" x2="211.21" y2="193.61" stroke="#666" stroke-width="0.8"/>
<line x1="252.99" y1="190.81" x2="252.99" y2="193.61" stroke="#666" stroke-width="0.8"/>
<line x1="44.09" y1="272.69" x2="252.99" y2="272.69" stroke="#7e7e7e" stroke-width="0.8" stroke-dasharray="2.6 2.7"/>
<line x1="85.87" y1="271.79" x2="85.87" y2="274.59" stroke="#666" stroke-width="0.8"/>
<line x1="127.65" y1="271.79" x2="127.65" y2="274.59" stroke="#666" stroke-width="0.8"/>
<line x1="169.43" y1="271.79" x2="169.43" y2="274.59" stroke="#666" stroke-width="0.8"/>
<line x1="211.21" y1="271.79" x2="211.21" y2="274.59" stroke="#666" stroke-width="0.8"/>
<line x1="252.99" y1="271.79" x2="252.99" y2="274.59" stroke="#666" stroke-width="0.8"/>
<line x1="44.09" y1="357.04" x2="252.99" y2="357.04" stroke="#7e7e7e" stroke-width="0.8" stroke-dasharray="2.6 2.7"/>
<line x1="85.87" y1="356.14" x2="85.87" y2="358.94" stroke="#666" stroke-width="0.8"/>
<line x1="127.65" y1="356.14" x2="127.65" y2="358.94" stroke="#666" stroke-width="0.8"/>
<line x1="169.43" y1="356.14" x2="169.43" y2="358.94" stroke="#666" stroke-width="0.8"/>
<line x1="211.21" y1="356.14" x2="211.21" y2="358.94" stroke="#666" stroke-width="0.8"/>
<line x1="252.99" y1="356.14" x2="252.99" y2="358.94" stroke="#666" stroke-width="0.8"/>
<line x1="44.09" y1="440.6" x2="252.99" y2="440.6" stroke="#dedede" stroke-width="0.7" stroke-dasharray="2 3"/>
<line x1="85.87" y1="25" x2="85.87" y2="27.5" stroke="#777" stroke-width="0.8"/>
<line x1="127.65" y1="25" x2="127.65" y2="27.5" stroke="#777" stroke-width="0.8"/>
<line x1="169.43" y1="25" x2="169.43" y2="27.5" stroke="#777" stroke-width="0.8"/>
<line x1="211.21" y1="25" x2="211.21" y2="27.5" stroke="#777" stroke-width="0.8"/>
<line x1="252.99" y1="25" x2="252.99" y2="27.5" stroke="#777" stroke-width="0.8"/>
<rect x="44.09" y="25" width="0.8" height="415" fill="#8088a8"/>
<rect x="44.09" y="25.4" width="2.4" height="80.08" fill="#6470a6"/>
<rect x="44.09" y="109.65" width="2.4" height="80.18" fill="#6470a6"/>
<rect x="44.09" y="194" width="2.4" height="76.8" fill="#6470a6"/>
<rect x="44.09" y="274.97" width="2.4" height="80.18" fill="#6470a6"/>
<rect x="44.09" y="359.32" width="2.4" height="80.18" fill="#6470a6"/>
<line x1="310.06" y1="25.2" x2="518.96" y2="25.2" stroke="#808080" stroke-width="0.9"/>
<rect x="310.06" y="25.6" width="111.44" height="2.77" fill="#535e98"/>
<rect x="422.3" y="25.6" width="77.6" height="2.77" fill="#8fafd0"/>
<rect x="500.7" y="25.6" width="18.26" height="2.77" fill="#c5d65c"/>
<rect x="310.06" y="28.37" width="111.14" height="3.37" fill="#535e98"/>
<rect x="422" y="28.37" width="77.9" height="3.37" fill="#8fafd0"/>
<rect x="500.7" y="28.37" width="18.26" height="3.37" fill="#c5d65c"/>
<rect x="310.06" y="31.75" width="112.14" height="3.37" fill="#535e98"/>
<rect x="423" y="31.75" width="75.5" height="3.37" fill="#8fafd0"/>
<rect x="499.3" y="31.75" width="19.66" height="3.37" fill="#c5d65c"/>
<rect x="310.06" y="35.12" width="114.84" height="3.37" fill="#535e98"/>
<rect x="425.7" y="35.12" width="75.3" height="3.37" fill="#8fafd0"/>
<rect x="501.8" y="35.12" width="17.16" height="3.37" fill="#c5d65c"/>
<rect x="310.06" y="38.5" width="113.54" height="3.37" fill="#535e98"/>
<rect x="424.4" y="38.5" width="75.8" height="3.37" fill="#8fafd0"/>
<rect x="501" y="38.5" width="17.96" height="3.37" fill="#c5d65c"/>
<rect x="310.06" y="41.87" width="114.84" height="3.37" fill="#535e98"/>
<rect x="425.7" y="41.87" width="74.2" height="3.37" fill="#8fafd0"/>
<rect x="500.7" y="41.87" width="18.26" height="3.37" fill="#c5d65c"/>
<rect x="310.06" y="45.24" width="114.24" height="3.37" fill="#535e98"/>
<rect x="425.1" y="45.24" width="74.8" height="3.37" fill="#8fafd0"/>
<rect x="500.7" y="45.24" width="18.26" height="3.37" fill="#c5d65c"/>
<rect x="310.06" y="48.62" width="114.24" height="3.37" fill="#535e98"/>
<rect x="425.1" y="48.62" width="74.8" height="3.37" fill="#8fafd0"/>
<rect x="500.7" y="48.62" width="18.26" height="3.37" fill="#c5d65c"/>
<rect x="310.06" y="51.99" width="113.14" height="3.37" fill="#535e98"/>
<rect x="424" y="51.99" width="75.9" height="3.37" fill="#8fafd0"/>
<rect x="500.7" y="51.99" width="18.26" height="3.37" fill="#c5d65c"/>
<rect x="310.06" y="55.37" width="112.54" height="3.37" fill="#535e98"/>
<rect x="423.4" y="55.37" width="76.5" height="3.37" fill="#8fafd0"/>
<rect x="500.7" y="55.37" width="18.26" height="3.37" fill="#c5d65c"/>
<rect x="310.06" y="58.74" width="111.14" height="3.37" fill="#535e98"/>
<rect x="422" y="58.74" width="77.6" height="3.37" fill="#8fafd0"/>
<rect x="500.4" y="58.74" width="18.56" height="3.37" fill="#c5d65c"/>
<rect x="310.06" y="62.11" width="113.14" height="3.37" fill="#535e98"/>
<rect x="424" y="62.11" width="76.2" height="3.37" fill="#8fafd0"/>
<rect x="501" y="62.11" width="17.96" height="3.37" fill="#c5d65c"/>
<rect x="310.06" y="65.49" width="113.54" height="3.37" fill="#535e98"/>
<rect x="424.4" y="65.49" width="75.8" height="3.37" fill="#8fafd0"/>
<rect x="501" y="65.49" width="17.96" height="3.37" fill="#c5d65c"/>
<rect x="310.06" y="68.86" width="112.84" height="3.37" fill="#535e98"/>
<rect x="423.7" y="68.86" width="75.9" height="3.37" fill="#8fafd0"/>
<rect x="500.4" y="68.86" width="18.56" height="3.37" fill="#c5d65c"/>
<rect x="310.06" y="72.24" width="113.94" height="3.37" fill="#535e98"/>
<rect x="424.8" y="72.24" width="75.4" height="3.37" fill="#8fafd0"/>
<rect x="501" y="72.24" width="17.96" height="3.37" fill="#c5d65c"/>
<rect x="310.06" y="75.61" width="114.84" height="3.37" fill="#535e98"/>
<rect x="425.7" y="75.61" width="74.9" height="3.37" fill="#8fafd0"/>
<rect x="501.4" y="75.61" width="17.56" height="3.37" fill="#c5d65c"/>
<rect x="310.06" y="78.98" width="112.14" height="3.37" fill="#535e98"/>
<rect x="423" y="78.98" width="76.6" height="3.37" fill="#8fafd0"/>
<rect x="500.4" y="78.98" width="18.56" height="3.37" fill="#c5d65c"/>
<rect x="310.06" y="82.36" width="111.74" height="3.37" fill="#535e98"/>
<rect x="422.6" y="82.36" width="77.6" height="3.37" fill="#8fafd0"/>
<rect x="501" y="82.36" width="17.96" height="3.37" fill="#c5d65c"/>
<rect x="310.06" y="85.73" width="111.14" height="3.37" fill="#535e98"/>
<rect x="422" y="85.73" width="78.2" height="3.37" fill="#8fafd0"/>
<rect x="501" y="85.73" width="17.96" height="3.37" fill="#c5d65c"/>
<rect x="310.06" y="89.11" width="112.14" height="3.37" fill="#535e98"/>
<rect x="423" y="89.11" width="77.2" height="3.37" fill="#8fafd0"/>
<rect x="501" y="89.11" width="17.96" height="3.37" fill="#c5d65c"/>
<rect x="310.06" y="92.48" width="112.84" height="3.37" fill="#535e98"/>
<rect x="423.7" y="92.48" width="76.9" height="3.37" fill="#8fafd0"/>
<rect x="501.4" y="92.48" width="17.56" height="3.37" fill="#c5d65c"/>
<rect x="310.06" y="95.85" width="112.54" height="3.37" fill="#535e98"/>
<rect x="423.4" y="95.85" width="77.2" height="3.37" fill="#8fafd0"/>
<rect x="501.4" y="95.85" width="17.56" height="3.37" fill="#c5d65c"/>
<rect x="310.06" y="99.23" width="112.54" height="3.37" fill="#535e98"/>
<rect x="423.4" y="99.23" width="77.9" height="3.37" fill="#8fafd0"/>
<rect x="502.1" y="99.23" width="16.86" height="3.37" fill="#c5d65c"/>
<rect x="310.06" y="102.6" width="112.14" height="2.7" fill="#535e98"/>
<rect x="423" y="102.6" width="78.3" height="2.7" fill="#8fafd0"/>
<rect x="502.1" y="102.6" width="16.86" height="2.7" fill="#c5d65c"/>
<rect x="310.06" y="109.95" width="154.94" height="2.77" fill="#535e98"/>
<rect x="465.8" y="109.95" width="43.95" height="2.77" fill="#8fafd0"/>
<rect x="510.55" y="109.95" width="8.41" height="2.77" fill="#c5d65c"/>
<rect x="310.06" y="112.72" width="154.94" height="3.37" fill="#535e98"/>
<rect x="465.8" y="112.72" width="43.95" height="3.37" fill="#8fafd0"/>
<rect x="510.55" y="112.72" width="8.41" height="3.37" fill="#c5d65c"/>
<rect x="310.06" y="116.1" width="155.94" height="3.37" fill="#535e98"/>
<rect x="466.8" y="116.1" width="43.2" height="3.37" fill="#8fafd0"/>
<rect x="510.8" y="116.1" width="8.16" height="3.37" fill="#c5d65c"/>
<rect x="310.06" y="119.47" width="154.94" height="3.37" fill="#535e98"/>
<rect x="465.8" y="119.47" width="43.2" height="3.37" fill="#8fafd0"/>
<rect x="509.8" y="119.47" width="9.16" height="3.37" fill="#c5d65c"/>
<rect x="310.06" y="122.85" width="154.94" height="3.37" fill="#535e98"/>
<rect x="465.8" y="122.85" width="42.3" height="3.37" fill="#8fafd0"/>
<rect x="508.9" y="122.85" width="10.06" height="3.37" fill="#c5d65c"/>
<rect x="310.06" y="126.22" width="156.84" height="3.37" fill="#535e98"/>
<rect x="467.7" y="126.22" width="41.3" height="3.37" fill="#8fafd0"/>
<rect x="509.8" y="126.22" width="9.16" height="3.37" fill="#c5d65c"/>
<rect x="310.06" y="129.59" width="157.69" height="3.37" fill="#535e98"/>
<rect x="468.55" y="129.59" width="41.45" height="3.37" fill="#8fafd0"/>
<rect x="510.8" y="129.59" width="8.16" height="3.37" fill="#c5d65c"/>
<rect x="310.06" y="132.97" width="157.69" height="3.37" fill="#535e98"/>
<rect x="468.55" y="132.97" width="41.45" height="3.37" fill="#8fafd0"/>
<rect x="510.8" y="132.97" width="8.16" height="3.37" fill="#c5d65c"/>
<rect x="310.06" y="136.34" width="156.19" height="3.37" fill="#535e98"/>
<rect x="467.05" y="136.34" width="43.55" height="3.37" fill="#8fafd0"/>
<rect x="511.4" y="136.34" width="7.56" height="3.37" fill="#c5d65c"/>
<rect x="310.06" y="139.72" width="146.84" height="3.37" fill="#535e98"/>
<rect x="457.7" y="139.72" width="48.3" height="3.37" fill="#8fafd0"/>
<rect x="506.8" y="139.72" width="12.16" height="3.37" fill="#c5d65c"/>
<rect x="310.06" y="143.09" width="138.94" height="3.37" fill="#535e98"/>
<rect x="449.8" y="143.09" width="51.2" height="3.37" fill="#8fafd0"/>
<rect x="501.8" y="143.09" width="17.16" height="3.37" fill="#c5d65c"/>
<rect x="310.06" y="146.46" width="138.04" height="3.37" fill="#535e98"/>
<rect x="448.9" y="146.46" width="51.7" height="3.37" fill="#8fafd0"/>
<rect x="501.4" y="146.46" width="17.56" height="3.37" fill="#c5d65c"/>
<rect x="310.06" y="149.84" width="136.84" height="3.37" fill="#535e98"/>
<rect x="447.7" y="149.84" width="52.3" height="3.37" fill="#8fafd0"/>
<rect x="500.8" y="149.84" width="18.16" height="3.37" fill="#c5d65c"/>
<rect x="310.06" y="153.21" width="135.94" height="3.37" fill="#535e98"/>
<rect x="446.8" y="153.21" width="52.6" height="3.37" fill="#8fafd0"/>
<rect x="500.2" y="153.21" width="18.76" height="3.37" fill="#c5d65c"/>
<rect x="310.06" y="156.59" width="134.69" height="3.37" fill="#535e98"/>
<rect x="445.55" y="156.59" width="53.45" height="3.37" fill="#8fafd0"/>
<rect x="499.8" y="156.59" width="19.16" height="3.37" fill="#c5d65c"/>
<rect x="310.06" y="159.96" width="133.69" height="3.37" fill="#535e98"/>
<rect x="444.55" y="159.96" width="54.45" height="3.37" fill="#8fafd0"/>
<rect x="499.8" y="159.96" width="19.16" height="3.37" fill="#c5d65c"/>
<rect x="310.06" y="163.33" width="131.84" height="3.37" fill="#535e98"/>
<rect x="442.7" y="163.33" width="56.3" height="3.37" fill="#8fafd0"/>
<rect x="499.8" y="163.33" width="19.16" height="3.37" fill="#c5d65c"/>
<rect x="310.06" y="166.71" width="131.19" height="3.37" fill="#535e98"/>
<rect x="442.05" y="166.71" width="56.95" height="3.37" fill="#8fafd0"/>
<rect x="499.8" y="166.71" width="19.16" height="3.37" fill="#c5d65c"/>
<rect x="310.06" y="170.08" width="131.19" height="3.37" fill="#535e98"/>
<rect x="442.05" y="170.08" width="56.95" height="3.37" fill="#8fafd0"/>
<rect x="499.8" y="170.08" width="19.16" height="3.37" fill="#c5d65c"/>
<rect x="310.06" y="173.46" width="131.19" height="3.37" fill="#535e98"/>
<rect x="442.05" y="173.46" width="56.95" height="3.37" fill="#8fafd0"/>
<rect x="499.8" y="173.46" width="19.16" height="3.37" fill="#c5d65c"/>
<rect x="310.06" y="176.83" width="131.19" height="3.37" fill="#535e98"/>
<rect x="442.05" y="176.83" width="56.45" height="3.37" fill="#8fafd0"/>
<rect x="499.3" y="176.83" width="19.66" height="3.37" fill="#c5d65c"/>
<rect x="310.06" y="180.2" width="131.19" height="3.37" fill="#535e98"/>
<rect x="442.05" y="180.2" width="56.7" height="3.37" fill="#8fafd0"/>
<rect x="499.55" y="180.2" width="19.41" height="3.37" fill="#c5d65c"/>
<rect x="310.06" y="183.58" width="131.44" height="3.37" fill="#535e98"/>
<rect x="442.3" y="183.58" width="56.45" height="3.37" fill="#8fafd0"/>
<rect x="499.55" y="183.58" width="19.41" height="3.37" fill="#c5d65c"/>
<rect x="310.06" y="186.95" width="131.44" height="2.7" fill="#535e98"/>
<rect x="442.3" y="186.95" width="56.2" height="2.7" fill="#8fafd0"/>
<rect x="499.3" y="186.95" width="19.66" height="2.7" fill="#c5d65c"/>
<rect x="310.06" y="194.3" width="182.14" height="2.77" fill="#535e98"/>
<rect x="493" y="194.3" width="21.2" height="2.77" fill="#8fafd0"/>
<rect x="515" y="194.3" width="3.96" height="2.77" fill="#c5d65c"/>
<rect x="310.06" y="197.07" width="181.94" height="3.37" fill="#535e98"/>
<rect x="492.8" y="197.07" width="21.4" height="3.37" fill="#8fafd0"/>
<rect x="515" y="197.07" width="3.96" height="3.37" fill="#c5d65c"/>
<rect x="310.06" y="200.45" width="181.14" height="3.37" fill="#535e98"/>
<rect x="492" y="200.45" width="22.2" height="3.37" fill="#8fafd0"/>
<rect x="515" y="200.45" width="3.96" height="3.37" fill="#c5d65c"/>
<rect x="310.06" y="203.82" width="179.94" height="3.37" fill="#535e98"/>
<rect x="490.8" y="203.82" width="23.4" height="3.37" fill="#8fafd0"/>
<rect x="515" y="203.82" width="3.96" height="3.37" fill="#c5d65c"/>
<rect x="310.06" y="207.2" width="178.94" height="3.37" fill="#535e98"/>
<rect x="489.8" y="207.2" width="23.4" height="3.37" fill="#8fafd0"/>
<rect x="514" y="207.2" width="4.96" height="3.37" fill="#c5d65c"/>
<rect x="310.06" y="210.57" width="177.94" height="3.37" fill="#535e98"/>
<rect x="488.8" y="210.57" width="24.4" height="3.37" fill="#8fafd0"/>
<rect x="514" y="210.57" width="4.96" height="3.37" fill="#c5d65c"/>
<rect x="310.06" y="213.94" width="176.14" height="3.37" fill="#535e98"/>
<rect x="487" y="213.94" width="24.8" height="3.37" fill="#8fafd0"/>
<rect x="512.6" y="213.94" width="6.36" height="3.37" fill="#c5d65c"/>
<rect x="310.06" y="217.32" width="176.14" height="3.37" fill="#535e98"/>
<rect x="487" y="217.32" width="24.8" height="3.37" fill="#8fafd0"/>
<rect x="512.6" y="217.32" width="6.36" height="3.37" fill="#c5d65c"/>
<rect x="310.06" y="220.69" width="176.14" height="3.37" fill="#535e98"/>
<rect x="487" y="220.69" width="24.8" height="3.37" fill="#8fafd0"/>
<rect x="512.6" y="220.69" width="6.36" height="3.37" fill="#c5d65c"/>
<rect x="310.06" y="224.07" width="176.14" height="3.37" fill="#535e98"/>
<rect x="487" y="224.07" width="24.8" height="3.37" fill="#8fafd0"/>
<rect x="512.6" y="224.07" width="6.36" height="3.37" fill="#c5d65c"/>
<rect x="310.06" y="227.44" width="173.44" height="3.37" fill="#535e98"/>
<rect x="484.3" y="227.44" width="27.7" height="3.37" fill="#8fafd0"/>
<rect x="512.8" y="227.44" width="6.16" height="3.37" fill="#c5d65c"/>
<rect x="310.06" y="230.81" width="172.94" height="3.37" fill="#535e98"/>
<rect x="483.8" y="230.81" width="27.2" height="3.37" fill="#8fafd0"/>
<rect x="511.8" y="230.81" width="7.16" height="3.37" fill="#c5d65c"/>
<rect x="310.06" y="234.19" width="172.14" height="3.37" fill="#535e98"/>
<rect x="483" y="234.19" width="28.2" height="3.37" fill="#8fafd0"/>
<rect x="512" y="234.19" width="6.96" height="3.37" fill="#c5d65c"/>
<rect x="310.06" y="237.56" width="171.94" height="3.37" fill="#535e98"/>
<rect x="482.8" y="237.56" width="27.4" height="3.37" fill="#8fafd0"/>
<rect x="511" y="237.56" width="6.5" height="3.37" fill="#c5d65c"/>
<rect x="518.3" y="237.56" width="0.66" height="3.37" fill="#fdcf50"/>
<rect x="310.06" y="240.93" width="155.94" height="3.37" fill="#535e98"/>
<rect x="466.8" y="240.93" width="42.2" height="3.37" fill="#8fafd0"/>
<rect x="509.8" y="240.93" width="9.16" height="3.37" fill="#c5d65c"/>
<rect x="310.06" y="244.31" width="154.44" height="3.37" fill="#535e98"/>
<rect x="465.3" y="244.31" width="43.7" height="3.37" fill="#8fafd0"/>
<rect x="509.8" y="244.31" width="9.16" height="3.37" fill="#c5d65c"/>
<rect x="310.06" y="247.68" width="139.94" height="3.37" fill="#535e98"/>
<rect x="450.8" y="247.68" width="54.7" height="3.37" fill="#8fafd0"/>
<rect x="506.3" y="247.68" width="12.66" height="3.37" fill="#c5d65c"/>
<rect x="310.06" y="251.06" width="139.94" height="3.37" fill="#535e98"/>
<rect x="450.8" y="251.06" width="56" height="3.37" fill="#8fafd0"/>
<rect x="507.6" y="251.06" width="11.36" height="3.37" fill="#c5d65c"/>
<rect x="310.06" y="254.43" width="139.14" height="3.37" fill="#535e98"/>
<rect x="450" y="254.43" width="57" height="3.37" fill="#8fafd0"/>
<rect x="507.8" y="254.43" width="11.16" height="3.37" fill="#c5d65c"/>
<rect x="310.06" y="257.8" width="139.44" height="3.37" fill="#535e98"/>
<rect x="450.3" y="257.8" width="56.7" height="3.37" fill="#8fafd0"/>
<rect x="507.8" y="257.8" width="11.16" height="3.37" fill="#c5d65c"/>
<rect x="310.06" y="261.18" width="139.94" height="3.37" fill="#535e98"/>
<rect x="450.8" y="261.18" width="55.7" height="3.37" fill="#8fafd0"/>
<rect x="507.3" y="261.18" width="11.66" height="3.37" fill="#c5d65c"/>
<rect x="310.06" y="264.55" width="138.74" height="3.37" fill="#535e98"/>
<rect x="449.6" y="264.55" width="55.2" height="3.37" fill="#8fafd0"/>
<rect x="505.6" y="264.55" width="13.36" height="3.37" fill="#c5d65c"/>
<rect x="310.06" y="267.93" width="114.94" height="2.7" fill="#535e98"/>
<rect x="425.8" y="267.93" width="69.7" height="2.7" fill="#8fafd0"/>
<rect x="496.3" y="267.93" width="22.66" height="2.7" fill="#c5d65c"/>
<rect x="310.06" y="275.27" width="48.04" height="2.77" fill="#535e98"/>
<rect x="358.9" y="275.27" width="108.3" height="2.77" fill="#8fafd0"/>
<rect x="468" y="275.27" width="50.96" height="2.77" fill="#c5d65c"/>
<rect x="310.06" y="278.05" width="38.04" height="3.37" fill="#535e98"/>
<rect x="348.9" y="278.05" width="115.1" height="3.37" fill="#8fafd0"/>
<rect x="464.8" y="278.05" width="54.16" height="3.37" fill="#c5d65c"/>
<rect x="310.06" y="281.42" width="43.69" height="3.37" fill="#535e98"/>
<rect x="354.55" y="281.42" width="106.95" height="3.37" fill="#8fafd0"/>
<rect x="462.3" y="281.42" width="56.66" height="3.37" fill="#c5d65c"/>
<rect x="310.06" y="284.8" width="41.84" height="3.37" fill="#535e98"/>
<rect x="352.7" y="284.8" width="114.5" height="3.37" fill="#8fafd0"/>
<rect x="468" y="284.8" width="50.96" height="3.37" fill="#c5d65c"/>
<rect x="310.06" y="288.17" width="49.69" height="3.37" fill="#535e98"/>
<rect x="360.55" y="288.17" width="111.95" height="3.37" fill="#8fafd0"/>
<rect x="473.3" y="288.17" width="45.66" height="3.37" fill="#c5d65c"/>
<rect x="310.06" y="291.54" width="48.69" height="3.37" fill="#535e98"/>
<rect x="359.55" y="291.54" width="106.95" height="3.37" fill="#8fafd0"/>
<rect x="467.3" y="291.54" width="51.66" height="3.37" fill="#c5d65c"/>
<rect x="310.06" y="294.92" width="53.44" height="3.37" fill="#535e98"/>
<rect x="364.3" y="294.92" width="102.7" height="3.37" fill="#8fafd0"/>
<rect x="467.8" y="294.92" width="51.16" height="3.37" fill="#c5d65c"/>
<rect x="310.06" y="298.29" width="56.84" height="3.37" fill="#535e98"/>
<rect x="367.7" y="298.29" width="106.8" height="3.37" fill="#8fafd0"/>
<rect x="475.3" y="298.29" width="43.66" height="3.37" fill="#c5d65c"/>
<rect x="310.06" y="301.67" width="60.94" height="3.37" fill="#535e98"/>
<rect x="371.8" y="301.67" width="111.4" height="3.37" fill="#8fafd0"/>
<rect x="484" y="301.67" width="34.96" height="3.37" fill="#c5d65c"/>
<rect x="310.06" y="305.04" width="64.69" height="3.37" fill="#535e98"/>
<rect x="375.55" y="305.04" width="110.65" height="3.37" fill="#8fafd0"/>
<rect x="487" y="305.04" width="31.96" height="3.37" fill="#c5d65c"/>
<rect x="310.06" y="308.41" width="62.19" height="3.37" fill="#535e98"/>
<rect x="373.05" y="308.41" width="117.45" height="3.37" fill="#8fafd0"/>
<rect x="491.3" y="308.41" width="27.66" height="3.37" fill="#c5d65c"/>
<rect x="310.06" y="311.79" width="68.04" height="3.37" fill="#535e98"/>
<rect x="378.9" y="311.79" width="112.3" height="3.37" fill="#8fafd0"/>
<rect x="492" y="311.79" width="26.96" height="3.37" fill="#c5d65c"/>
<rect x="310.06" y="315.16" width="73.04" height="3.37" fill="#535e98"/>
<rect x="383.9" y="315.16" width="107.6" height="3.37" fill="#8fafd0"/>
<rect x="492.3" y="315.16" width="26.66" height="3.37" fill="#c5d65c"/>
<rect x="310.06" y="318.54" width="74.69" height="3.37" fill="#535e98"/>
<rect x="385.55" y="318.54" width="106.95" height="3.37" fill="#8fafd0"/>
<rect x="493.3" y="318.54" width="25.66" height="3.37" fill="#c5d65c"/>
<rect x="310.06" y="321.91" width="75.94" height="3.37" fill="#535e98"/>
<rect x="386.8" y="321.91" width="110.4" height="3.37" fill="#8fafd0"/>
<rect x="498" y="321.91" width="20.96" height="3.37" fill="#c5d65c"/>
<rect x="310.06" y="325.28" width="81.19" height="3.37" fill="#535e98"/>
<rect x="392.05" y="325.28" width="107.45" height="3.37" fill="#8fafd0"/>
<rect x="500.3" y="325.28" width="18.66" height="3.37" fill="#c5d65c"/>
<rect x="310.06" y="328.66" width="83.94" height="3.37" fill="#535e98"/>
<rect x="394.8" y="328.66" width="102.4" height="3.37" fill="#8fafd0"/>
<rect x="498" y="328.66" width="20.96" height="3.37" fill="#c5d65c"/>
<rect x="310.06" y="332.03" width="86.84" height="3.37" fill="#535e98"/>
<rect x="397.7" y="332.03" width="102.5" height="3.37" fill="#8fafd0"/>
<rect x="501" y="332.03" width="17.96" height="3.37" fill="#c5d65c"/>
<rect x="310.06" y="335.41" width="83.94" height="3.37" fill="#535e98"/>
<rect x="394.8" y="335.41" width="101.4" height="3.37" fill="#8fafd0"/>
<rect x="497" y="335.41" width="21.96" height="3.37" fill="#c5d65c"/>
<rect x="310.06" y="338.78" width="83.69" height="3.37" fill="#535e98"/>
<rect x="394.55" y="338.78" width="101.65" height="3.37" fill="#8fafd0"/>
<rect x="497" y="338.78" width="21.96" height="3.37" fill="#c5d65c"/>
<rect x="310.06" y="342.15" width="79.94" height="3.37" fill="#535e98"/>
<rect x="390.8" y="342.15" width="106.4" height="3.37" fill="#8fafd0"/>
<rect x="498" y="342.15" width="20.96" height="3.37" fill="#c5d65c"/>
<rect x="310.06" y="345.53" width="85.94" height="3.37" fill="#535e98"/>
<rect x="396.8" y="345.53" width="100.4" height="3.37" fill="#8fafd0"/>
<rect x="498" y="345.53" width="20.96" height="3.37" fill="#c5d65c"/>
<rect x="310.06" y="348.9" width="85.94" height="3.37" fill="#535e98"/>
<rect x="396.8" y="348.9" width="101" height="3.37" fill="#8fafd0"/>
<rect x="498.6" y="348.9" width="20.36" height="3.37" fill="#c5d65c"/>
<rect x="310.06" y="352.28" width="85.94" height="2.7" fill="#535e98"/>
<rect x="396.8" y="352.28" width="97.7" height="2.7" fill="#8fafd0"/>
<rect x="495.3" y="352.28" width="23.66" height="2.7" fill="#c5d65c"/>
<rect x="310.06" y="359.62" width="87.74" height="2.77" fill="#535e98"/>
<rect x="398.6" y="359.62" width="63.2" height="2.77" fill="#8fafd0"/>
<rect x="462.6" y="359.62" width="56.36" height="2.77" fill="#c5d65c"/>
<rect x="310.06" y="362.4" width="83.64" height="3.37" fill="#535e98"/>
<rect x="394.5" y="362.4" width="61.8" height="3.37" fill="#8fafd0"/>
<rect x="457.1" y="362.4" width="61.86" height="3.37" fill="#c5d65c"/>
<rect x="310.06" y="365.77" width="76.74" height="3.37" fill="#535e98"/>
<rect x="387.6" y="365.77" width="68.7" height="3.37" fill="#8fafd0"/>
<rect x="457.1" y="365.77" width="61.86" height="3.37" fill="#c5d65c"/>
<rect x="310.06" y="369.15" width="74.94" height="3.37" fill="#535e98"/>
<rect x="385.8" y="369.15" width="67.7" height="3.37" fill="#8fafd0"/>
<rect x="454.3" y="369.15" width="64.66" height="3.37" fill="#c5d65c"/>
<rect x="310.06" y="372.52" width="68.94" height="3.37" fill="#535e98"/>
<rect x="379.8" y="372.52" width="71.7" height="3.37" fill="#8fafd0"/>
<rect x="452.3" y="372.52" width="66.66" height="3.37" fill="#c5d65c"/>
<rect x="310.06" y="375.89" width="71.94" height="3.37" fill="#535e98"/>
<rect x="382.8" y="375.89" width="71.4" height="3.37" fill="#8fafd0"/>
<rect x="455" y="375.89" width="63.96" height="3.37" fill="#c5d65c"/>
<rect x="310.06" y="379.27" width="69.24" height="3.37" fill="#535e98"/>
<rect x="380.1" y="379.27" width="67.2" height="3.37" fill="#8fafd0"/>
<rect x="448.1" y="379.27" width="70.86" height="3.37" fill="#c5d65c"/>
<rect x="310.06" y="382.64" width="85.44" height="3.37" fill="#535e98"/>
<rect x="396.3" y="382.64" width="53.8" height="3.37" fill="#8fafd0"/>
<rect x="450.9" y="382.64" width="68.06" height="3.37" fill="#c5d65c"/>
<rect x="310.06" y="386.02" width="76.34" height="3.37" fill="#535e98"/>
<rect x="387.2" y="386.02" width="65" height="3.37" fill="#8fafd0"/>
<rect x="453" y="386.02" width="65.96" height="3.37" fill="#c5d65c"/>
<rect x="310.06" y="389.39" width="74.94" height="3.37" fill="#535e98"/>
<rect x="385.8" y="389.39" width="61.5" height="3.37" fill="#8fafd0"/>
<rect x="448.1" y="389.39" width="70.86" height="3.37" fill="#c5d65c"/>
<rect x="310.06" y="392.76" width="73.64" height="3.37" fill="#535e98"/>
<rect x="384.5" y="392.76" width="64.9" height="3.37" fill="#8fafd0"/>
<rect x="450.2" y="392.76" width="68.76" height="3.37" fill="#c5d65c"/>
<rect x="310.06" y="396.14" width="76.74" height="3.37" fill="#535e98"/>
<rect x="387.6" y="396.14" width="68.7" height="3.37" fill="#8fafd0"/>
<rect x="457.1" y="396.14" width="61.86" height="3.37" fill="#c5d65c"/>
<rect x="310.06" y="399.51" width="82.94" height="3.37" fill="#535e98"/>
<rect x="393.8" y="399.51" width="60.8" height="3.37" fill="#8fafd0"/>
<rect x="455.4" y="399.51" width="63.56" height="3.37" fill="#c5d65c"/>
<rect x="310.06" y="402.89" width="82.94" height="3.37" fill="#535e98"/>
<rect x="393.8" y="402.89" width="63.6" height="3.37" fill="#8fafd0"/>
<rect x="458.2" y="402.89" width="60.76" height="3.37" fill="#c5d65c"/>
<rect x="310.06" y="406.26" width="78.14" height="3.37" fill="#535e98"/>
<rect x="389" y="406.26" width="65.9" height="3.37" fill="#8fafd0"/>
<rect x="455.7" y="406.26" width="63.26" height="3.37" fill="#c5d65c"/>
<rect x="310.06" y="409.63" width="73.04" height="3.37" fill="#535e98"/>
<rect x="383.9" y="409.63" width="68.5" height="3.37" fill="#8fafd0"/>
<rect x="453.2" y="409.63" width="65.76" height="3.37" fill="#c5d65c"/>
<rect x="310.06" y="413.01" width="72.24" height="3.37" fill="#535e98"/>
<rect x="383.1" y="413.01" width="69.3" height="3.37" fill="#8fafd0"/>
<rect x="453.2" y="413.01" width="65.76" height="3.37" fill="#c5d65c"/>
<rect x="310.06" y="416.38" width="76.74" height="3.37" fill="#535e98"/>
<rect x="387.6" y="416.38" width="63.9" height="3.37" fill="#8fafd0"/>
<rect x="452.3" y="416.38" width="66.66" height="3.37" fill="#c5d65c"/>
<rect x="310.06" y="419.76" width="74.94" height="3.37" fill="#535e98"/>
<rect x="385.8" y="419.76" width="67.5" height="3.37" fill="#8fafd0"/>
<rect x="454.1" y="419.76" width="64.86" height="3.37" fill="#c5d65c"/>
<rect x="310.06" y="423.13" width="82.94" height="3.37" fill="#535e98"/>
<rect x="393.8" y="423.13" width="60.8" height="3.37" fill="#8fafd0"/>
<rect x="455.4" y="423.13" width="63.56" height="3.37" fill="#c5d65c"/>
<rect x="310.06" y="426.5" width="78.14" height="3.37" fill="#535e98"/>
<rect x="389" y="426.5" width="63.4" height="3.37" fill="#8fafd0"/>
<rect x="453.2" y="426.5" width="65.76" height="3.37" fill="#c5d65c"/>
<rect x="310.06" y="429.88" width="80.94" height="3.37" fill="#535e98"/>
<rect x="391.8" y="429.88" width="64.2" height="3.37" fill="#8fafd0"/>
<rect x="456.8" y="429.88" width="62.16" height="3.37" fill="#c5d65c"/>
<rect x="310.06" y="433.25" width="81.84" height="3.37" fill="#535e98"/>
<rect x="392.7" y="433.25" width="62.5" height="3.37" fill="#8fafd0"/>
<rect x="456" y="433.25" width="62.96" height="3.37" fill="#c5d65c"/>
<rect x="310.06" y="436.63" width="78.84" height="2.7" fill="#535e98"/>
<rect x="389.7" y="436.63" width="63.8" height="2.7" fill="#8fafd0"/>
<rect x="454.3" y="436.63" width="64.66" height="2.7" fill="#c5d65c"/>
<rect x="310.06" y="27.8" width="208.9" height="1.35" fill="#fff" fill-opacity="0.7"/>
<rect x="310.06" y="31.17" width="208.9" height="1.35" fill="#fff" fill-opacity="0.7"/>
<rect x="310.06" y="34.55" width="208.9" height="1.35" fill="#fff" fill-opacity="0.7"/>
<rect x="310.06" y="37.92" width="208.9" height="1.35" fill="#fff" fill-opacity="0.7"/>
<rect x="310.06" y="41.29" width="208.9" height="1.35" fill="#fff" fill-opacity="0.7"/>
<rect x="310.06" y="44.67" width="208.9" height="1.35" fill="#fff" fill-opacity="0.7"/>
<rect x="310.06" y="48.04" width="208.9" height="1.35" fill="#fff" fill-opacity="0.7"/>
<rect x="310.06" y="51.42" width="208.9" height="1.35" fill="#fff" fill-opacity="0.7"/>
<rect x="310.06" y="54.79" width="208.9" height="1.35" fill="#fff" fill-opacity="0.7"/>
<rect x="310.06" y="58.16" width="208.9" height="1.35" fill="#fff" fill-opacity="0.7"/>
<rect x="310.06" y="61.54" width="208.9" height="1.35" fill="#fff" fill-opacity="0.7"/>
<rect x="310.06" y="64.91" width="208.9" height="1.35" fill="#fff" fill-opacity="0.7"/>
<rect x="310.06" y="68.29" width="208.9" height="1.35" fill="#fff" fill-opacity="0.7"/>
<rect x="310.06" y="71.66" width="208.9" height="1.35" fill="#fff" fill-opacity="0.7"/>
<rect x="310.06" y="75.03" width="208.9" height="1.35" fill="#fff" fill-opacity="0.7"/>
<rect x="310.06" y="78.41" width="208.9" height="1.35" fill="#fff" fill-opacity="0.7"/>
<rect x="310.06" y="81.78" width="208.9" height="1.35" fill="#fff" fill-opacity="0.7"/>
<rect x="310.06" y="85.16" width="208.9" height="1.35" fill="#fff" fill-opacity="0.7"/>
<rect x="310.06" y="88.53" width="208.9" height="1.35" fill="#fff" fill-opacity="0.7"/>
<rect x="310.06" y="91.9" width="208.9" height="1.35" fill="#fff" fill-opacity="0.7"/>
<rect x="310.06" y="95.28" width="208.9" height="1.35" fill="#fff" fill-opacity="0.7"/>
<rect x="310.06" y="98.65" width="208.9" height="1.35" fill="#fff" fill-opacity="0.7"/>
<rect x="310.06" y="102.03" width="208.9" height="1.35" fill="#fff" fill-opacity="0.7"/>
<rect x="310.06" y="112.15" width="208.9" height="1.35" fill="#fff" fill-opacity="0.7"/>
<rect x="310.06" y="115.52" width="208.9" height="1.35" fill="#fff" fill-opacity="0.7"/>
<rect x="310.06" y="118.9" width="208.9" height="1.35" fill="#fff" fill-opacity="0.7"/>
<rect x="310.06" y="122.27" width="208.9" height="1.35" fill="#fff" fill-opacity="0.7"/>
<rect x="310.06" y="125.64" width="208.9" height="1.35" fill="#fff" fill-opacity="0.7"/>
<rect x="310.06" y="129.02" width="208.9" height="1.35" fill="#fff" fill-opacity="0.7"/>
<rect x="310.06" y="132.39" width="208.9" height="1.35" fill="#fff" fill-opacity="0.7"/>
<rect x="310.06" y="135.77" width="208.9" height="1.35" fill="#fff" fill-opacity="0.7"/>
<rect x="310.06" y="139.14" width="208.9" height="1.35" fill="#fff" fill-opacity="0.7"/>
<rect x="310.06" y="142.51" width="208.9" height="1.35" fill="#fff" fill-opacity="0.7"/>
<rect x="310.06" y="145.89" width="208.9" height="1.35" fill="#fff" fill-opacity="0.7"/>
<rect x="310.06" y="149.26" width="208.9" height="1.35" fill="#fff" fill-opacity="0.7"/>
<rect x="310.06" y="152.64" width="208.9" height="1.35" fill="#fff" fill-opacity="0.7"/>
<rect x="310.06" y="156.01" width="208.9" height="1.35" fill="#fff" fill-opacity="0.7"/>
<rect x="310.06" y="159.38" width="208.9" height="1.35" fill="#fff" fill-opacity="0.7"/>
<rect x="310.06" y="162.76" width="208.9" height="1.35" fill="#fff" fill-opacity="0.7"/>
<rect x="310.06" y="166.13" width="208.9" height="1.35" fill="#fff" fill-opacity="0.7"/>
<rect x="310.06" y="169.51" width="208.9" height="1.35" fill="#fff" fill-opacity="0.7"/>
<rect x="310.06" y="172.88" width="208.9" height="1.35" fill="#fff" fill-opacity="0.7"/>
<rect x="310.06" y="176.25" width="208.9" height="1.35" fill="#fff" fill-opacity="0.7"/>
<rect x="310.06" y="179.63" width="208.9" height="1.35" fill="#fff" fill-opacity="0.7"/>
<rect x="310.06" y="183" width="208.9" height="1.35" fill="#fff" fill-opacity="0.7"/>
<rect x="310.06" y="186.38" width="208.9" height="1.35" fill="#fff" fill-opacity="0.7"/>
<rect x="310.06" y="196.5" width="208.9" height="1.35" fill="#fff" fill-opacity="0.7"/>
<rect x="310.06" y="199.87" width="208.9" height="1.35" fill="#fff" fill-opacity="0.7"/>
<rect x="310.06" y="203.25" width="208.9" height="1.35" fill="#fff" fill-opacity="0.7"/>
<rect x="310.06" y="206.62" width="208.9" height="1.35" fill="#fff" fill-opacity="0.7"/>
<rect x="310.06" y="209.99" width="208.9" height="1.35" fill="#fff" fill-opacity="0.7"/>
<rect x="310.06" y="213.37" width="208.9" height="1.35" fill="#fff" fill-opacity="0.7"/>
<rect x="310.06" y="216.74" width="208.9" height="1.35" fill="#fff" fill-opacity="0.7"/>
<rect x="310.06" y="220.12" width="208.9" height="1.35" fill="#fff" fill-opacity="0.7"/>
<rect x="310.06" y="223.49" width="208.9" height="1.35" fill="#fff" fill-opacity="0.7"/>
<rect x="310.06" y="226.86" width="208.9" height="1.35" fill="#fff" fill-opacity="0.7"/>
<rect x="310.06" y="230.24" width="208.9" height="1.35" fill="#fff" fill-opacity="0.7"/>
<rect x="310.06" y="233.61" width="208.9" height="1.35" fill="#fff" fill-opacity="0.7"/>
<rect x="310.06" y="236.99" width="208.9" height="1.35" fill="#fff" fill-opacity="0.7"/>
<rect x="310.06" y="240.36" width="208.9" height="1.35" fill="#fff" fill-opacity="0.7"/>
<rect x="310.06" y="243.73" width="208.9" height="1.35" fill="#fff" fill-opacity="0.7"/>
<rect x="310.06" y="247.11" width="208.9" height="1.35" fill="#fff" fill-opacity="0.7"/>
<rect x="310.06" y="250.48" width="208.9" height="1.35" fill="#fff" fill-opacity="0.7"/>
<rect x="310.06" y="253.86" width="208.9" height="1.35" fill="#fff" fill-opacity="0.7"/>
<rect x="310.06" y="257.23" width="208.9" height="1.35" fill="#fff" fill-opacity="0.7"/>
<rect x="310.06" y="260.6" width="208.9" height="1.35" fill="#fff" fill-opacity="0.7"/>
<rect x="310.06" y="263.98" width="208.9" height="1.35" fill="#fff" fill-opacity="0.7"/>
<rect x="310.06" y="267.35" width="208.9" height="1.35" fill="#fff" fill-opacity="0.7"/>
<rect x="310.06" y="277.47" width="208.9" height="1.35" fill="#fff" fill-opacity="0.7"/>
<rect x="310.06" y="280.85" width="208.9" height="1.35" fill="#fff" fill-opacity="0.7"/>
<rect x="310.06" y="284.22" width="208.9" height="1.35" fill="#fff" fill-opacity="0.7"/>
<rect x="310.06" y="287.6" width="208.9" height="1.35" fill="#fff" fill-opacity="0.7"/>
<rect x="310.06" y="290.97" width="208.9" height="1.35" fill="#fff" fill-opacity="0.7"/>
<rect x="310.06" y="294.34" width="208.9" height="1.35" fill="#fff" fill-opacity="0.7"/>
<rect x="310.06" y="297.72" width="208.9" height="1.35" fill="#fff" fill-opacity="0.7"/>
<rect x="310.06" y="301.09" width="208.9" height="1.35" fill="#fff" fill-opacity="0.7"/>
<rect x="310.06" y="304.47" width="208.9" height="1.35" fill="#fff" fill-opacity="0.7"/>
<rect x="310.06" y="307.84" width="208.9" height="1.35" fill="#fff" fill-opacity="0.7"/>
<rect x="310.06" y="311.21" width="208.9" height="1.35" fill="#fff" fill-opacity="0.7"/>
<rect x="310.06" y="314.59" width="208.9" height="1.35" fill="#fff" fill-opacity="0.7"/>
<rect x="310.06" y="317.96" width="208.9" height="1.35" fill="#fff" fill-opacity="0.7"/>
<rect x="310.06" y="321.34" width="208.9" height="1.35" fill="#fff" fill-opacity="0.7"/>
<rect x="310.06" y="324.71" width="208.9" height="1.35" fill="#fff" fill-opacity="0.7"/>
<rect x="310.06" y="328.08" width="208.9" height="1.35" fill="#fff" fill-opacity="0.7"/>
<rect x="310.06" y="331.46" width="208.9" height="1.35" fill="#fff" fill-opacity="0.7"/>
<rect x="310.06" y="334.83" width="208.9" height="1.35" fill="#fff" fill-opacity="0.7"/>
<rect x="310.06" y="338.21" width="208.9" height="1.35" fill="#fff" fill-opacity="0.7"/>
<rect x="310.06" y="341.58" width="208.9" height="1.35" fill="#fff" fill-opacity="0.7"/>
<rect x="310.06" y="344.95" width="208.9" height="1.35" fill="#fff" fill-opacity="0.7"/>
<rect x="310.06" y="348.33" width="208.9" height="1.35" fill="#fff" fill-opacity="0.7"/>
<rect x="310.06" y="351.7" width="208.9" height="1.35" fill="#fff" fill-opacity="0.7"/>
<rect x="310.06" y="361.82" width="208.9" height="1.35" fill="#fff" fill-opacity="0.7"/>
<rect x="310.06" y="365.2" width="208.9" height="1.35" fill="#fff" fill-opacity="0.7"/>
<rect x="310.06" y="368.57" width="208.9" height="1.35" fill="#fff" fill-opacity="0.7"/>
<rect x="310.06" y="371.95" width="208.9" height="1.35" fill="#fff" fill-opacity="0.7"/>
<rect x="310.06" y="375.32" width="208.9" height="1.35" fill="#fff" fill-opacity="0.7"/>
<rect x="310.06" y="378.69" width="208.9" height="1.35" fill="#fff" fill-opacity="0.7"/>
<rect x="310.06" y="382.07" width="208.9" height="1.35" fill="#fff" fill-opacity="0.7"/>
<rect x="310.06" y="385.44" width="208.9" height="1.35" fill="#fff" fill-opacity="0.7"/>
<rect x="310.06" y="388.82" width="208.9" height="1.35" fill="#fff" fill-opacity="0.7"/>
<rect x="310.06" y="392.19" width="208.9" height="1.35" fill="#fff" fill-opacity="0.7"/>
<rect x="310.06" y="395.56" width="208.9" height="1.35" fill="#fff" fill-opacity="0.7"/>
<rect x="310.06" y="398.94" width="208.9" height="1.35" fill="#fff" fill-opacity="0.7"/>
<rect x="310.06" y="402.31" width="208.9" height="1.35" fill="#fff" fill-opacity="0.7"/>
<rect x="310.06" y="405.69" width="208.9" height="1.35" fill="#fff" fill-opacity="0.7"/>
<rect x="310.06" y="409.06" width="208.9" height="1.35" fill="#fff" fill-opacity="0.7"/>
<rect x="310.06" y="412.43" width="208.9" height="1.35" fill="#fff" fill-opacity="0.7"/>
<rect x="310.06" y="415.81" width="208.9" height="1.35" fill="#fff" fill-opacity="0.7"/>
<rect x="310.06" y="419.18" width="208.9" height="1.35" fill="#fff" fill-opacity="0.7"/>
<rect x="310.06" y="422.56" width="208.9" height="1.35" fill="#fff" fill-opacity="0.7"/>
<rect x="310.06" y="425.93" width="208.9" height="1.35" fill="#fff" fill-opacity="0.7"/>
<rect x="310.06" y="429.3" width="208.9" height="1.35" fill="#fff" fill-opacity="0.7"/>
<rect x="310.06" y="432.68" width="208.9" height="1.35" fill="#fff" fill-opacity="0.7"/>
<rect x="310.06" y="436.05" width="208.9" height="1.35" fill="#fff" fill-opacity="0.7"/>
<line x1="310.06" y1="107.36" x2="518.96" y2="107.36" stroke="#7e7e7e" stroke-width="0.8" stroke-dasharray="2.6 2.7"/>
<line x1="351.84" y1="106.46" x2="351.84" y2="109.26" stroke="#666" stroke-width="0.8"/>
<line x1="393.62" y1="106.46" x2="393.62" y2="109.26" stroke="#666" stroke-width="0.8"/>
<line x1="435.4" y1="106.46" x2="435.4" y2="109.26" stroke="#666" stroke-width="0.8"/>
<line x1="477.18" y1="106.46" x2="477.18" y2="109.26" stroke="#666" stroke-width="0.8"/>
<line x1="518.96" y1="106.46" x2="518.96" y2="109.26" stroke="#666" stroke-width="0.8"/>
<line x1="310.06" y1="191.71" x2="518.96" y2="191.71" stroke="#7e7e7e" stroke-width="0.8" stroke-dasharray="2.6 2.7"/>
<line x1="351.84" y1="190.81" x2="351.84" y2="193.61" stroke="#666" stroke-width="0.8"/>
<line x1="393.62" y1="190.81" x2="393.62" y2="193.61" stroke="#666" stroke-width="0.8"/>
<line x1="435.4" y1="190.81" x2="435.4" y2="193.61" stroke="#666" stroke-width="0.8"/>
<line x1="477.18" y1="190.81" x2="477.18" y2="193.61" stroke="#666" stroke-width="0.8"/>
<line x1="518.96" y1="190.81" x2="518.96" y2="193.61" stroke="#666" stroke-width="0.8"/>
<line x1="310.06" y1="272.69" x2="518.96" y2="272.69" stroke="#7e7e7e" stroke-width="0.8" stroke-dasharray="2.6 2.7"/>
<line x1="351.84" y1="271.79" x2="351.84" y2="274.59" stroke="#666" stroke-width="0.8"/>
<line x1="393.62" y1="271.79" x2="393.62" y2="274.59" stroke="#666" stroke-width="0.8"/>
<line x1="435.4" y1="271.79" x2="435.4" y2="274.59" stroke="#666" stroke-width="0.8"/>
<line x1="477.18" y1="271.79" x2="477.18" y2="274.59" stroke="#666" stroke-width="0.8"/>
<line x1="518.96" y1="271.79" x2="518.96" y2="274.59" stroke="#666" stroke-width="0.8"/>
<line x1="310.06" y1="357.04" x2="518.96" y2="357.04" stroke="#7e7e7e" stroke-width="0.8" stroke-dasharray="2.6 2.7"/>
<line x1="351.84" y1="356.14" x2="351.84" y2="358.94" stroke="#666" stroke-width="0.8"/>
<line x1="393.62" y1="356.14" x2="393.62" y2="358.94" stroke="#666" stroke-width="0.8"/>
<line x1="435.4" y1="356.14" x2="435.4" y2="358.94" stroke="#666" stroke-width="0.8"/>
<line x1="477.18" y1="356.14" x2="477.18" y2="358.94" stroke="#666" stroke-width="0.8"/>
<line x1="518.96" y1="356.14" x2="518.96" y2="358.94" stroke="#666" stroke-width="0.8"/>
<line x1="310.06" y1="440.6" x2="518.96" y2="440.6" stroke="#dedede" stroke-width="0.7" stroke-dasharray="2 3"/>
<line x1="351.84" y1="25" x2="351.84" y2="27.5" stroke="#777" stroke-width="0.8"/>
<line x1="393.62" y1="25" x2="393.62" y2="27.5" stroke="#777" stroke-width="0.8"/>
<line x1="435.4" y1="25" x2="435.4" y2="27.5" stroke="#777" stroke-width="0.8"/>
<line x1="477.18" y1="25" x2="477.18" y2="27.5" stroke="#777" stroke-width="0.8"/>
<line x1="518.96" y1="25" x2="518.96" y2="27.5" stroke="#777" stroke-width="0.8"/>
<rect x="310.06" y="25" width="0.8" height="415" fill="#8088a8"/>
<rect x="310.06" y="25.4" width="2.4" height="80.08" fill="#6470a6"/>
<rect x="310.06" y="109.65" width="2.4" height="80.18" fill="#6470a6"/>
<rect x="310.06" y="194" width="2.4" height="76.8" fill="#6470a6"/>
<rect x="310.06" y="274.97" width="2.4" height="80.18" fill="#6470a6"/>
<rect x="310.06" y="359.32" width="2.4" height="80.18" fill="#6470a6"/>
<line x1="577.35" y1="25.2" x2="786.25" y2="25.2" stroke="#808080" stroke-width="0.9"/>
<rect x="577.35" y="25.6" width="57.05" height="2.77" fill="#535e98"/>
<rect x="635.2" y="25.6" width="55.9" height="2.77" fill="#8fafd0"/>
<rect x="691.9" y="25.6" width="94.35" height="2.77" fill="#c5d65c"/>
<rect x="577.35" y="28.37" width="63.65" height="3.37" fill="#535e98"/>
<rect x="641.8" y="28.37" width="49.3" height="3.37" fill="#8fafd0"/>
<rect x="691.9" y="28.37" width="94.35" height="3.37" fill="#c5d65c"/>
<rect x="577.35" y="31.75" width="64.65" height="3.37" fill="#535e98"/>
<rect x="642.8" y="31.75" width="55.5" height="3.37" fill="#8fafd0"/>
<rect x="699.1" y="31.75" width="87.15" height="3.37" fill="#c5d65c"/>
<rect x="577.35" y="35.12" width="64.65" height="3.37" fill="#535e98"/>
<rect x="642.8" y="35.12" width="62.8" height="3.37" fill="#8fafd0"/>
<rect x="706.4" y="35.12" width="79.85" height="3.37" fill="#c5d65c"/>
<rect x="577.35" y="38.5" width="52.95" height="3.37" fill="#535e98"/>
<rect x="631.1" y="38.5" width="63.1" height="3.37" fill="#8fafd0"/>
<rect x="695" y="38.5" width="91.25" height="3.37" fill="#c5d65c"/>
<rect x="577.35" y="41.87" width="50.85" height="3.37" fill="#535e98"/>
<rect x="629" y="41.87" width="61.1" height="3.37" fill="#8fafd0"/>
<rect x="690.9" y="41.87" width="95.35" height="3.37" fill="#c5d65c"/>
<rect x="577.35" y="45.24" width="43.55" height="3.37" fill="#535e98"/>
<rect x="621.7" y="45.24" width="67.4" height="3.37" fill="#8fafd0"/>
<rect x="689.9" y="45.24" width="96.35" height="3.37" fill="#c5d65c"/>
<rect x="577.35" y="48.62" width="48.55" height="3.37" fill="#535e98"/>
<rect x="626.7" y="48.62" width="64.4" height="3.37" fill="#8fafd0"/>
<rect x="691.9" y="48.62" width="94.35" height="3.37" fill="#c5d65c"/>
<rect x="577.35" y="51.99" width="44.65" height="3.37" fill="#535e98"/>
<rect x="622.8" y="51.99" width="68.3" height="3.37" fill="#8fafd0"/>
<rect x="691.9" y="51.99" width="94.35" height="3.37" fill="#c5d65c"/>
<rect x="577.35" y="55.37" width="46.05" height="3.37" fill="#535e98"/>
<rect x="624.2" y="55.37" width="66.9" height="3.37" fill="#8fafd0"/>
<rect x="691.9" y="55.37" width="94.35" height="3.37" fill="#c5d65c"/>
<rect x="577.35" y="58.74" width="43.25" height="3.37" fill="#535e98"/>
<rect x="621.4" y="58.74" width="64.2" height="3.37" fill="#8fafd0"/>
<rect x="686.4" y="58.74" width="99.85" height="3.37" fill="#c5d65c"/>
<rect x="577.35" y="62.11" width="47.65" height="3.37" fill="#535e98"/>
<rect x="625.8" y="62.11" width="67.7" height="3.37" fill="#8fafd0"/>
<rect x="694.3" y="62.11" width="91.95" height="3.37" fill="#c5d65c"/>
<rect x="577.35" y="65.49" width="48.05" height="3.37" fill="#535e98"/>
<rect x="626.2" y="65.49" width="62.9" height="3.37" fill="#8fafd0"/>
<rect x="689.9" y="65.49" width="96.35" height="3.37" fill="#c5d65c"/>
<rect x="577.35" y="68.86" width="44.95" height="3.37" fill="#535e98"/>
<rect x="623.1" y="68.86" width="68.8" height="3.37" fill="#8fafd0"/>
<rect x="692.7" y="68.86" width="93.55" height="3.37" fill="#c5d65c"/>
<rect x="577.35" y="72.24" width="48.05" height="3.37" fill="#535e98"/>
<rect x="626.2" y="72.24" width="72.1" height="3.37" fill="#8fafd0"/>
<rect x="699.1" y="72.24" width="87.15" height="3.37" fill="#c5d65c"/>
<rect x="577.35" y="75.61" width="44.65" height="3.37" fill="#535e98"/>
<rect x="622.8" y="75.61" width="79.3" height="3.37" fill="#8fafd0"/>
<rect x="702.9" y="75.61" width="83.35" height="3.37" fill="#c5d65c"/>
<rect x="577.35" y="78.98" width="50.85" height="3.37" fill="#535e98"/>
<rect x="629" y="78.98" width="64.5" height="3.37" fill="#8fafd0"/>
<rect x="694.3" y="78.98" width="91.95" height="3.37" fill="#c5d65c"/>
<rect x="577.35" y="82.36" width="47.65" height="3.37" fill="#535e98"/>
<rect x="625.8" y="82.36" width="71.9" height="3.37" fill="#8fafd0"/>
<rect x="698.5" y="82.36" width="87.75" height="3.37" fill="#c5d65c"/>
<rect x="577.35" y="85.73" width="48.05" height="3.37" fill="#535e98"/>
<rect x="626.2" y="85.73" width="70.1" height="3.37" fill="#8fafd0"/>
<rect x="697.1" y="85.73" width="89.15" height="3.37" fill="#c5d65c"/>
<rect x="577.35" y="89.11" width="48.55" height="3.37" fill="#535e98"/>
<rect x="626.7" y="89.11" width="68.5" height="3.37" fill="#8fafd0"/>
<rect x="696" y="89.11" width="90.25" height="3.37" fill="#c5d65c"/>
<rect x="577.35" y="92.48" width="45.35" height="3.37" fill="#535e98"/>
<rect x="623.5" y="92.48" width="67.6" height="3.37" fill="#8fafd0"/>
<rect x="691.9" y="92.48" width="94.35" height="3.37" fill="#c5d65c"/>
<rect x="577.35" y="95.85" width="48.55" height="3.37" fill="#535e98"/>
<rect x="626.7" y="95.85" width="68.5" height="3.37" fill="#8fafd0"/>
<rect x="696" y="95.85" width="90.25" height="3.37" fill="#c5d65c"/>
<rect x="577.35" y="99.23" width="49.45" height="3.37" fill="#535e98"/>
<rect x="627.6" y="99.23" width="71.7" height="3.37" fill="#8fafd0"/>
<rect x="700.1" y="99.23" width="86.15" height="3.37" fill="#c5d65c"/>
<rect x="577.35" y="102.6" width="45.75" height="2.7" fill="#535e98"/>
<rect x="623.9" y="102.6" width="75.4" height="2.7" fill="#8fafd0"/>
<rect x="700.1" y="102.6" width="86.15" height="2.7" fill="#c5d65c"/>
<rect x="577.35" y="109.95" width="55.65" height="2.77" fill="#535e98"/>
<rect x="633.8" y="109.95" width="56.3" height="2.77" fill="#8fafd0"/>
<rect x="690.9" y="109.95" width="91.4" height="2.77" fill="#c5d65c"/>
<rect x="783.1" y="109.95" width="3.15" height="2.77" fill="#fdcf50"/>
<rect x="577.35" y="112.72" width="52.25" height="3.37" fill="#535e98"/>
<rect x="630.4" y="112.72" width="60.7" height="3.37" fill="#8fafd0"/>
<rect x="691.9" y="112.72" width="91.3" height="3.37" fill="#c5d65c"/>
<rect x="784" y="112.72" width="2.25" height="3.37" fill="#fdcf50"/>
<rect x="577.35" y="116.1" width="54.05" height="3.37" fill="#535e98"/>
<rect x="632.2" y="116.1" width="60.6" height="3.37" fill="#8fafd0"/>
<rect x="693.6" y="116.1" width="89.6" height="3.37" fill="#c5d65c"/>
<rect x="784" y="116.1" width="2.25" height="3.37" fill="#fdcf50"/>
<rect x="577.35" y="119.47" width="53.55" height="3.37" fill="#535e98"/>
<rect x="631.7" y="119.47" width="59.4" height="3.37" fill="#8fafd0"/>
<rect x="691.9" y="119.47" width="90.4" height="3.37" fill="#c5d65c"/>
<rect x="783.1" y="119.47" width="3.15" height="3.37" fill="#fdcf50"/>
<rect x="577.35" y="122.85" width="51.85" height="3.37" fill="#535e98"/>
<rect x="630" y="122.85" width="58" height="3.37" fill="#8fafd0"/>
<rect x="688.8" y="122.85" width="92.2" height="3.37" fill="#c5d65c"/>
<rect x="781.8" y="122.85" width="4.45" height="3.37" fill="#fdcf50"/>
<rect x="577.35" y="126.22" width="50.85" height="3.37" fill="#535e98"/>
<rect x="629" y="126.22" width="57.4" height="3.37" fill="#8fafd0"/>
<rect x="687.2" y="126.22" width="95.1" height="3.37" fill="#c5d65c"/>
<rect x="783.1" y="126.22" width="3.15" height="3.37" fill="#fdcf50"/>
<rect x="577.35" y="129.59" width="48.75" height="3.37" fill="#535e98"/>
<rect x="626.9" y="129.59" width="54.3" height="3.37" fill="#8fafd0"/>
<rect x="682" y="129.59" width="101.2" height="3.37" fill="#c5d65c"/>
<rect x="784" y="129.59" width="2.25" height="3.37" fill="#fdcf50"/>
<rect x="577.35" y="132.97" width="46.05" height="3.37" fill="#535e98"/>
<rect x="624.2" y="132.97" width="52.1" height="3.37" fill="#8fafd0"/>
<rect x="677.1" y="132.97" width="106.4" height="3.37" fill="#c5d65c"/>
<rect x="784.3" y="132.97" width="1.95" height="3.37" fill="#fdcf50"/>
<rect x="577.35" y="136.34" width="46.75" height="3.37" fill="#535e98"/>
<rect x="624.9" y="136.34" width="52.4" height="3.37" fill="#8fafd0"/>
<rect x="678.1" y="136.34" width="105.4" height="3.37" fill="#c5d65c"/>
<rect x="784.3" y="136.34" width="1.95" height="3.37" fill="#fdcf50"/>
<rect x="577.35" y="139.72" width="48.75" height="3.37" fill="#535e98"/>
<rect x="626.9" y="139.72" width="55.4" height="3.37" fill="#8fafd0"/>
<rect x="683.1" y="139.72" width="98.3" height="3.37" fill="#c5d65c"/>
<rect x="782.2" y="139.72" width="4.05" height="3.37" fill="#fdcf50"/>
<rect x="577.35" y="143.09" width="46.75" height="3.37" fill="#535e98"/>
<rect x="624.9" y="143.09" width="53.5" height="3.37" fill="#8fafd0"/>
<rect x="679.2" y="143.09" width="100.4" height="3.37" fill="#c5d65c"/>
<rect x="780.4" y="143.09" width="5.85" height="3.37" fill="#fdcf50"/>
<rect x="577.35" y="146.46" width="43.95" height="3.37" fill="#535e98"/>
<rect x="622.1" y="146.46" width="52.2" height="3.37" fill="#8fafd0"/>
<rect x="675.1" y="146.46" width="107.9" height="3.37" fill="#c5d65c"/>
<rect x="783.8" y="146.46" width="2.45" height="3.37" fill="#fdcf50"/>
<rect x="577.35" y="149.84" width="43.55" height="3.37" fill="#535e98"/>
<rect x="621.7" y="149.84" width="57.8" height="3.37" fill="#8fafd0"/>
<rect x="680.3" y="149.84" width="103.6" height="3.37" fill="#c5d65c"/>
<rect x="784.7" y="149.84" width="1.55" height="3.37" fill="#fdcf50"/>
<rect x="577.35" y="153.21" width="37.75" height="3.37" fill="#535e98"/>
<rect x="615.9" y="153.21" width="62.2" height="3.37" fill="#8fafd0"/>
<rect x="678.9" y="153.21" width="104.3" height="3.37" fill="#c5d65c"/>
<rect x="784" y="153.21" width="2.25" height="3.37" fill="#fdcf50"/>
<rect x="577.35" y="156.59" width="38.45" height="3.37" fill="#535e98"/>
<rect x="616.6" y="156.59" width="61.8" height="3.37" fill="#8fafd0"/>
<rect x="679.2" y="156.59" width="104" height="3.37" fill="#c5d65c"/>
<rect x="784" y="156.59" width="2.25" height="3.37" fill="#fdcf50"/>
<rect x="577.35" y="159.96" width="38.85" height="3.37" fill="#535e98"/>
<rect x="617" y="159.96" width="64.2" height="3.37" fill="#8fafd0"/>
<rect x="682" y="159.96" width="99.4" height="3.37" fill="#c5d65c"/>
<rect x="782.2" y="159.96" width="4.05" height="3.37" fill="#fdcf50"/>
<rect x="577.35" y="163.33" width="41.25" height="3.37" fill="#535e98"/>
<rect x="619.4" y="163.33" width="70.7" height="3.37" fill="#8fafd0"/>
<rect x="690.9" y="163.33" width="92.6" height="3.37" fill="#c5d65c"/>
<rect x="784.3" y="163.33" width="1.95" height="3.37" fill="#fdcf50"/>
<rect x="577.35" y="166.71" width="40.55" height="3.37" fill="#535e98"/>
<rect x="618.7" y="166.71" width="71.4" height="3.37" fill="#8fafd0"/>
<rect x="690.9" y="166.71" width="91.9" height="3.37" fill="#c5d65c"/>
<rect x="783.6" y="166.71" width="2.65" height="3.37" fill="#fdcf50"/>
<rect x="577.35" y="170.08" width="38.85" height="3.37" fill="#535e98"/>
<rect x="617" y="170.08" width="69.4" height="3.37" fill="#8fafd0"/>
<rect x="687.2" y="170.08" width="95.1" height="3.37" fill="#c5d65c"/>
<rect x="783.1" y="170.08" width="3.15" height="3.37" fill="#fdcf50"/>
<rect x="577.35" y="173.46" width="38.85" height="3.37" fill="#535e98"/>
<rect x="617" y="173.46" width="67.2" height="3.37" fill="#8fafd0"/>
<rect x="685" y="173.46" width="96.9" height="3.37" fill="#c5d65c"/>
<rect x="782.7" y="173.46" width="3.55" height="3.37" fill="#fdcf50"/>
<rect x="577.35" y="176.83" width="37.75" height="3.37" fill="#535e98"/>
<rect x="615.9" y="176.83" width="66.4" height="3.37" fill="#8fafd0"/>
<rect x="683.1" y="176.83" width="97.9" height="3.37" fill="#c5d65c"/>
<rect x="781.8" y="176.83" width="4.45" height="3.37" fill="#fdcf50"/>
<rect x="577.35" y="180.2" width="35.75" height="3.37" fill="#535e98"/>
<rect x="613.9" y="180.2" width="65.9" height="3.37" fill="#8fafd0"/>
<rect x="680.6" y="180.2" width="102.6" height="3.37" fill="#c5d65c"/>
<rect x="784" y="180.2" width="2.25" height="3.37" fill="#fdcf50"/>
<rect x="577.35" y="183.58" width="37.75" height="3.37" fill="#535e98"/>
<rect x="615.9" y="183.58" width="67.7" height="3.37" fill="#8fafd0"/>
<rect x="684.4" y="183.58" width="98.6" height="3.37" fill="#c5d65c"/>
<rect x="783.8" y="183.58" width="2.45" height="3.37" fill="#fdcf50"/>
<rect x="577.35" y="186.95" width="38.85" height="2.7" fill="#535e98"/>
<rect x="617" y="186.95" width="67.6" height="2.7" fill="#8fafd0"/>
<rect x="685.4" y="186.95" width="96.9" height="2.7" fill="#c5d65c"/>
<rect x="783.1" y="186.95" width="3.15" height="2.7" fill="#fdcf50"/>
<rect x="577.35" y="194.3" width="48.15" height="2.77" fill="#535e98"/>
<rect x="626.3" y="194.3" width="89.2" height="2.77" fill="#8fafd0"/>
<rect x="716.3" y="194.3" width="69.95" height="2.77" fill="#c5d65c"/>
<rect x="577.35" y="197.07" width="48.15" height="3.37" fill="#535e98"/>
<rect x="626.3" y="197.07" width="91.9" height="3.37" fill="#8fafd0"/>
<rect x="719" y="197.07" width="67.25" height="3.37" fill="#c5d65c"/>
<rect x="577.35" y="200.45" width="46.85" height="3.37" fill="#535e98"/>
<rect x="625" y="200.45" width="91.9" height="3.37" fill="#8fafd0"/>
<rect x="717.7" y="200.45" width="68.55" height="3.37" fill="#c5d65c"/>
<rect x="577.35" y="203.82" width="44.85" height="3.37" fill="#535e98"/>
<rect x="623" y="203.82" width="95.2" height="3.37" fill="#8fafd0"/>
<rect x="719" y="203.82" width="67.25" height="3.37" fill="#c5d65c"/>
<rect x="577.35" y="207.2" width="46.85" height="3.37" fill="#535e98"/>
<rect x="625" y="207.2" width="97" height="3.37" fill="#8fafd0"/>
<rect x="722.8" y="207.2" width="63.45" height="3.37" fill="#c5d65c"/>
<rect x="577.35" y="210.57" width="45.85" height="3.37" fill="#535e98"/>
<rect x="624" y="210.57" width="112.7" height="3.37" fill="#8fafd0"/>
<rect x="737.5" y="210.57" width="48.75" height="3.37" fill="#c5d65c"/>
<rect x="577.35" y="213.94" width="48.65" height="3.37" fill="#535e98"/>
<rect x="626.8" y="213.94" width="115.4" height="3.37" fill="#8fafd0"/>
<rect x="743" y="213.94" width="43.25" height="3.37" fill="#c5d65c"/>
<rect x="577.35" y="217.32" width="50.95" height="3.37" fill="#535e98"/>
<rect x="629.1" y="217.32" width="116.6" height="3.37" fill="#8fafd0"/>
<rect x="746.5" y="217.32" width="39.75" height="3.37" fill="#c5d65c"/>
<rect x="577.35" y="220.69" width="53.65" height="3.37" fill="#535e98"/>
<rect x="631.8" y="220.69" width="115.9" height="3.37" fill="#8fafd0"/>
<rect x="748.5" y="220.69" width="37.75" height="3.37" fill="#c5d65c"/>
<rect x="577.35" y="224.07" width="53.65" height="3.37" fill="#535e98"/>
<rect x="631.8" y="224.07" width="117" height="3.37" fill="#8fafd0"/>
<rect x="749.6" y="224.07" width="36.65" height="3.37" fill="#c5d65c"/>
<rect x="577.35" y="227.44" width="44.45" height="3.37" fill="#535e98"/>
<rect x="622.6" y="227.44" width="97.3" height="3.37" fill="#8fafd0"/>
<rect x="720.7" y="227.44" width="7.7" height="3.37" fill="#c5d65c"/>
<rect x="729.2" y="227.44" width="57.05" height="3.37" fill="#fdcf50"/>
<rect x="577.35" y="230.81" width="45.85" height="3.37" fill="#535e98"/>
<rect x="624" y="230.81" width="95.2" height="3.37" fill="#8fafd0"/>
<rect x="720" y="230.81" width="8.8" height="3.37" fill="#c5d65c"/>
<rect x="729.6" y="230.81" width="56.65" height="3.37" fill="#fdcf50"/>
<rect x="577.35" y="234.19" width="46.25" height="3.37" fill="#535e98"/>
<rect x="624.4" y="234.19" width="99.9" height="3.37" fill="#8fafd0"/>
<rect x="725.1" y="234.19" width="9.2" height="3.37" fill="#c5d65c"/>
<rect x="735.1" y="234.19" width="51.15" height="3.37" fill="#fdcf50"/>
<rect x="577.35" y="237.56" width="48.15" height="3.37" fill="#535e98"/>
<rect x="626.3" y="237.56" width="98.8" height="3.37" fill="#8fafd0"/>
<rect x="725.9" y="237.56" width="8.4" height="3.37" fill="#c5d65c"/>
<rect x="735.1" y="237.56" width="51.15" height="3.37" fill="#fdcf50"/>
<rect x="577.35" y="240.93" width="47.65" height="3.37" fill="#535e98"/>
<rect x="625.8" y="240.93" width="100.3" height="3.37" fill="#8fafd0"/>
<rect x="726.9" y="240.93" width="9.5" height="3.37" fill="#c5d65c"/>
<rect x="737.2" y="240.93" width="49.05" height="3.37" fill="#fdcf50"/>
<rect x="577.35" y="244.31" width="49.55" height="3.37" fill="#535e98"/>
<rect x="627.7" y="244.31" width="99.3" height="3.37" fill="#8fafd0"/>
<rect x="727.8" y="244.31" width="9.7" height="3.37" fill="#c5d65c"/>
<rect x="738.3" y="244.31" width="47.95" height="3.37" fill="#fdcf50"/>
<rect x="577.35" y="247.68" width="59.65" height="3.37" fill="#535e98"/>
<rect x="637.8" y="247.68" width="126.4" height="3.37" fill="#8fafd0"/>
<rect x="765" y="247.68" width="21.25" height="3.37" fill="#c5d65c"/>
<rect x="577.35" y="251.06" width="60.55" height="3.37" fill="#535e98"/>
<rect x="638.7" y="251.06" width="125.5" height="3.37" fill="#8fafd0"/>
<rect x="765" y="251.06" width="21.25" height="3.37" fill="#c5d65c"/>
<rect x="577.35" y="254.43" width="60.05" height="3.37" fill="#535e98"/>
<rect x="638.2" y="254.43" width="125" height="3.37" fill="#8fafd0"/>
<rect x="764" y="254.43" width="22.25" height="3.37" fill="#c5d65c"/>
<rect x="577.35" y="257.8" width="59.65" height="3.37" fill="#535e98"/>
<rect x="637.8" y="257.8" width="130.2" height="3.37" fill="#8fafd0"/>
<rect x="768.8" y="257.8" width="17.45" height="3.37" fill="#c5d65c"/>
<rect x="577.35" y="261.18" width="62.35" height="3.37" fill="#535e98"/>
<rect x="640.5" y="261.18" width="121.8" height="3.37" fill="#8fafd0"/>
<rect x="763.1" y="261.18" width="23.15" height="3.37" fill="#c5d65c"/>
<rect x="577.35" y="264.55" width="70.65" height="3.37" fill="#535e98"/>
<rect x="648.8" y="264.55" width="117.2" height="3.37" fill="#8fafd0"/>
<rect x="766.8" y="264.55" width="19.45" height="3.37" fill="#c5d65c"/>
<rect x="577.35" y="267.93" width="70.65" height="2.7" fill="#535e98"/>
<rect x="648.8" y="267.93" width="119" height="2.7" fill="#8fafd0"/>
<rect x="768.6" y="267.93" width="17.65" height="2.7" fill="#c5d65c"/>
<rect x="577.35" y="275.27" width="19.75" height="2.77" fill="#535e98"/>
<rect x="597.9" y="275.27" width="54.2" height="2.77" fill="#8fafd0"/>
<rect x="652.9" y="275.27" width="133.35" height="2.77" fill="#c5d65c"/>
<rect x="577.35" y="278.05" width="23.45" height="3.37" fill="#535e98"/>
<rect x="601.6" y="278.05" width="57.7" height="3.37" fill="#8fafd0"/>
<rect x="660.1" y="278.05" width="126.15" height="3.37" fill="#c5d65c"/>
<rect x="577.35" y="281.42" width="23.05" height="3.37" fill="#535e98"/>
<rect x="601.2" y="281.42" width="71.1" height="3.37" fill="#8fafd0"/>
<rect x="673.1" y="281.42" width="113.15" height="3.37" fill="#c5d65c"/>
<rect x="577.35" y="284.8" width="23.85" height="3.37" fill="#535e98"/>
<rect x="602" y="284.8" width="73.1" height="3.37" fill="#8fafd0"/>
<rect x="675.9" y="284.8" width="110.35" height="3.37" fill="#c5d65c"/>
<rect x="577.35" y="288.17" width="24.45" height="3.37" fill="#535e98"/>
<rect x="602.6" y="288.17" width="76.6" height="3.37" fill="#8fafd0"/>
<rect x="680" y="288.17" width="106.25" height="3.37" fill="#c5d65c"/>
<rect x="577.35" y="291.54" width="23.45" height="3.37" fill="#535e98"/>
<rect x="601.6" y="291.54" width="71.2" height="3.37" fill="#8fafd0"/>
<rect x="673.6" y="291.54" width="112.65" height="3.37" fill="#c5d65c"/>
<rect x="577.35" y="294.92" width="24.45" height="3.37" fill="#535e98"/>
<rect x="602.6" y="294.92" width="71.8" height="3.37" fill="#8fafd0"/>
<rect x="675.2" y="294.92" width="111.05" height="3.37" fill="#c5d65c"/>
<rect x="577.35" y="298.29" width="22.55" height="3.37" fill="#535e98"/>
<rect x="600.7" y="298.29" width="68.9" height="3.37" fill="#8fafd0"/>
<rect x="670.4" y="298.29" width="115.85" height="3.37" fill="#c5d65c"/>
<rect x="577.35" y="301.67" width="23.45" height="3.37" fill="#535e98"/>
<rect x="601.6" y="301.67" width="69.8" height="3.37" fill="#8fafd0"/>
<rect x="672.2" y="301.67" width="114.05" height="3.37" fill="#c5d65c"/>
<rect x="577.35" y="305.04" width="22.75" height="3.37" fill="#535e98"/>
<rect x="600.9" y="305.04" width="75.6" height="3.37" fill="#8fafd0"/>
<rect x="677.3" y="305.04" width="108.95" height="3.37" fill="#c5d65c"/>
<rect x="577.35" y="308.41" width="22.75" height="3.37" fill="#535e98"/>
<rect x="600.9" y="308.41" width="69.7" height="3.37" fill="#8fafd0"/>
<rect x="671.4" y="308.41" width="114.85" height="3.37" fill="#c5d65c"/>
<rect x="577.35" y="311.79" width="25.55" height="3.37" fill="#535e98"/>
<rect x="603.7" y="311.79" width="68.2" height="3.37" fill="#8fafd0"/>
<rect x="672.7" y="311.79" width="113.55" height="3.37" fill="#c5d65c"/>
<rect x="577.35" y="315.16" width="26.25" height="3.37" fill="#535e98"/>
<rect x="604.4" y="315.16" width="64.8" height="3.37" fill="#8fafd0"/>
<rect x="670" y="315.16" width="116.25" height="3.37" fill="#c5d65c"/>
<rect x="577.35" y="318.54" width="25.85" height="3.37" fill="#535e98"/>
<rect x="604" y="318.54" width="62.4" height="3.37" fill="#8fafd0"/>
<rect x="667.2" y="318.54" width="119.05" height="3.37" fill="#c5d65c"/>
<rect x="577.35" y="321.91" width="28.05" height="3.37" fill="#535e98"/>
<rect x="606.2" y="321.91" width="61.1" height="3.37" fill="#8fafd0"/>
<rect x="668.1" y="321.91" width="118.15" height="3.37" fill="#c5d65c"/>
<rect x="577.35" y="325.28" width="28.95" height="3.37" fill="#535e98"/>
<rect x="607.1" y="325.28" width="61.5" height="3.37" fill="#8fafd0"/>
<rect x="669.4" y="325.28" width="116.85" height="3.37" fill="#c5d65c"/>
<rect x="577.35" y="328.66" width="30.75" height="3.37" fill="#535e98"/>
<rect x="608.9" y="328.66" width="60.3" height="3.37" fill="#8fafd0"/>
<rect x="670" y="328.66" width="116.25" height="3.37" fill="#c5d65c"/>
<rect x="577.35" y="332.03" width="32.45" height="3.37" fill="#535e98"/>
<rect x="610.6" y="332.03" width="60.8" height="3.37" fill="#8fafd0"/>
<rect x="672.2" y="332.03" width="114.05" height="3.37" fill="#c5d65c"/>
<rect x="577.35" y="335.41" width="32.65" height="3.37" fill="#535e98"/>
<rect x="610.8" y="335.41" width="62.2" height="3.37" fill="#8fafd0"/>
<rect x="673.8" y="335.41" width="112.45" height="3.37" fill="#c5d65c"/>
<rect x="577.35" y="338.78" width="34.05" height="3.37" fill="#535e98"/>
<rect x="612.2" y="338.78" width="64.3" height="3.37" fill="#8fafd0"/>
<rect x="677.3" y="338.78" width="108.95" height="3.37" fill="#c5d65c"/>
<rect x="577.35" y="342.15" width="34.85" height="3.37" fill="#535e98"/>
<rect x="613" y="342.15" width="66.2" height="3.37" fill="#8fafd0"/>
<rect x="680" y="342.15" width="106.25" height="3.37" fill="#c5d65c"/>
<rect x="577.35" y="345.53" width="36.55" height="3.37" fill="#535e98"/>
<rect x="614.7" y="345.53" width="66.6" height="3.37" fill="#8fafd0"/>
<rect x="682.1" y="345.53" width="104.15" height="3.37" fill="#c5d65c"/>
<rect x="577.35" y="348.9" width="39.95" height="3.37" fill="#535e98"/>
<rect x="618.1" y="348.9" width="69.4" height="3.37" fill="#8fafd0"/>
<rect x="688.3" y="348.9" width="97.95" height="3.37" fill="#c5d65c"/>
<rect x="577.35" y="352.28" width="41.75" height="2.7" fill="#535e98"/>
<rect x="619.9" y="352.28" width="73.1" height="2.7" fill="#8fafd0"/>
<rect x="693.8" y="352.28" width="92.45" height="2.7" fill="#c5d65c"/>
<rect x="577.35" y="359.62" width="46.55" height="2.77" fill="#535e98"/>
<rect x="624.7" y="359.62" width="64.6" height="2.77" fill="#8fafd0"/>
<rect x="690.1" y="359.62" width="96.15" height="2.77" fill="#c5d65c"/>
<rect x="577.35" y="362.4" width="45.45" height="3.37" fill="#535e98"/>
<rect x="623.6" y="362.4" width="82.6" height="3.37" fill="#8fafd0"/>
<rect x="707" y="362.4" width="79.25" height="3.37" fill="#c5d65c"/>
<rect x="577.35" y="365.77" width="46.55" height="3.37" fill="#535e98"/>
<rect x="624.7" y="365.77" width="81.3" height="3.37" fill="#8fafd0"/>
<rect x="706.8" y="365.77" width="79.45" height="3.37" fill="#c5d65c"/>
<rect x="577.35" y="369.15" width="44.85" height="3.37" fill="#535e98"/>
<rect x="623" y="369.15" width="74.1" height="3.37" fill="#8fafd0"/>
<rect x="697.9" y="369.15" width="88.35" height="3.37" fill="#c5d65c"/>
<rect x="577.35" y="372.52" width="45.85" height="3.37" fill="#535e98"/>
<rect x="624" y="372.52" width="83.2" height="3.37" fill="#8fafd0"/>
<rect x="708" y="372.52" width="78.25" height="3.37" fill="#c5d65c"/>
<rect x="577.35" y="375.89" width="47.65" height="3.37" fill="#535e98"/>
<rect x="625.8" y="375.89" width="77.4" height="3.37" fill="#8fafd0"/>
<rect x="704" y="375.89" width="82.25" height="3.37" fill="#c5d65c"/>
<rect x="577.35" y="379.27" width="44.85" height="3.37" fill="#535e98"/>
<rect x="623" y="379.27" width="76.3" height="3.37" fill="#8fafd0"/>
<rect x="700.1" y="379.27" width="86.15" height="3.37" fill="#c5d65c"/>
<rect x="577.35" y="382.64" width="54.75" height="3.37" fill="#535e98"/>
<rect x="632.9" y="382.64" width="76.3" height="3.37" fill="#8fafd0"/>
<rect x="710" y="382.64" width="76.25" height="3.37" fill="#c5d65c"/>
<rect x="577.35" y="386.02" width="49.95" height="3.37" fill="#535e98"/>
<rect x="628.1" y="386.02" width="65.4" height="3.37" fill="#8fafd0"/>
<rect x="694.3" y="386.02" width="91.95" height="3.37" fill="#c5d65c"/>
<rect x="577.35" y="389.39" width="57.55" height="3.37" fill="#535e98"/>
<rect x="635.7" y="389.39" width="57.8" height="3.37" fill="#8fafd0"/>
<rect x="694.3" y="389.39" width="91.95" height="3.37" fill="#c5d65c"/>
<rect x="577.35" y="392.76" width="63.75" height="3.37" fill="#535e98"/>
<rect x="641.9" y="392.76" width="57.1" height="3.37" fill="#8fafd0"/>
<rect x="699.8" y="392.76" width="86.45" height="3.37" fill="#c5d65c"/>
<rect x="577.35" y="396.14" width="69.95" height="3.37" fill="#535e98"/>
<rect x="648.1" y="396.14" width="54.9" height="3.37" fill="#8fafd0"/>
<rect x="703.8" y="396.14" width="82.45" height="3.37" fill="#c5d65c"/>
<rect x="577.35" y="399.51" width="76.15" height="3.37" fill="#535e98"/>
<rect x="654.3" y="399.51" width="49.4" height="3.37" fill="#8fafd0"/>
<rect x="704.5" y="399.51" width="81.75" height="3.37" fill="#c5d65c"/>
<rect x="577.35" y="402.89" width="73.75" height="3.37" fill="#535e98"/>
<rect x="651.9" y="402.89" width="48.7" height="3.37" fill="#8fafd0"/>
<rect x="701.4" y="402.89" width="84.85" height="3.37" fill="#c5d65c"/>
<rect x="577.35" y="406.26" width="70.65" height="3.37" fill="#535e98"/>
<rect x="648.8" y="406.26" width="45" height="3.37" fill="#8fafd0"/>
<rect x="694.6" y="406.26" width="91.65" height="3.37" fill="#c5d65c"/>
<rect x="577.35" y="409.63" width="73.75" height="3.37" fill="#535e98"/>
<rect x="651.9" y="409.63" width="43.2" height="3.37" fill="#8fafd0"/>
<rect x="695.9" y="409.63" width="90.35" height="3.37" fill="#c5d65c"/>
<rect x="577.35" y="413.01" width="60.55" height="3.37" fill="#535e98"/>
<rect x="638.7" y="413.01" width="54.2" height="3.37" fill="#8fafd0"/>
<rect x="693.7" y="413.01" width="92.55" height="3.37" fill="#c5d65c"/>
<rect x="577.35" y="416.38" width="54.55" height="3.37" fill="#535e98"/>
<rect x="632.7" y="416.38" width="57.2" height="3.37" fill="#8fafd0"/>
<rect x="690.7" y="416.38" width="95.55" height="3.37" fill="#c5d65c"/>
<rect x="577.35" y="419.76" width="53.65" height="3.37" fill="#535e98"/>
<rect x="631.8" y="419.76" width="56.5" height="3.37" fill="#8fafd0"/>
<rect x="689.1" y="419.76" width="97.15" height="3.37" fill="#c5d65c"/>
<rect x="577.35" y="423.13" width="55.45" height="3.37" fill="#535e98"/>
<rect x="633.6" y="423.13" width="57.7" height="3.37" fill="#8fafd0"/>
<rect x="692.1" y="423.13" width="94.15" height="3.37" fill="#c5d65c"/>
<rect x="577.35" y="426.5" width="53.65" height="3.37" fill="#535e98"/>
<rect x="631.8" y="426.5" width="51.9" height="3.37" fill="#8fafd0"/>
<rect x="684.5" y="426.5" width="101.75" height="3.37" fill="#c5d65c"/>
<rect x="577.35" y="429.88" width="52.75" height="3.37" fill="#535e98"/>
<rect x="630.9" y="429.88" width="53.2" height="3.37" fill="#8fafd0"/>
<rect x="684.9" y="429.88" width="101.35" height="3.37" fill="#c5d65c"/>
<rect x="577.35" y="433.25" width="55.45" height="3.37" fill="#535e98"/>
<rect x="633.6" y="433.25" width="50.5" height="3.37" fill="#8fafd0"/>
<rect x="684.9" y="433.25" width="101.35" height="3.37" fill="#c5d65c"/>
<rect x="577.35" y="436.63" width="55.45" height="2.7" fill="#535e98"/>
<rect x="633.6" y="436.63" width="49.4" height="2.7" fill="#8fafd0"/>
<rect x="683.8" y="436.63" width="102.45" height="2.7" fill="#c5d65c"/>
<rect x="577.35" y="27.8" width="208.9" height="1.35" fill="#fff" fill-opacity="0.7"/>
<rect x="577.35" y="31.17" width="208.9" height="1.35" fill="#fff" fill-opacity="0.7"/>
<rect x="577.35" y="34.55" width="208.9" height="1.35" fill="#fff" fill-opacity="0.7"/>
<rect x="577.35" y="37.92" width="208.9" height="1.35" fill="#fff" fill-opacity="0.7"/>
<rect x="577.35" y="41.29" width="208.9" height="1.35" fill="#fff" fill-opacity="0.7"/>
<rect x="577.35" y="44.67" width="208.9" height="1.35" fill="#fff" fill-opacity="0.7"/>
<rect x="577.35" y="48.04" width="208.9" height="1.35" fill="#fff" fill-opacity="0.7"/>
<rect x="577.35" y="51.42" width="208.9" height="1.35" fill="#fff" fill-opacity="0.7"/>
<rect x="577.35" y="54.79" width="208.9" height="1.35" fill="#fff" fill-opacity="0.7"/>
<rect x="577.35" y="58.16" width="208.9" height="1.35" fill="#fff" fill-opacity="0.7"/>
<rect x="577.35" y="61.54" width="208.9" height="1.35" fill="#fff" fill-opacity="0.7"/>
<rect x="577.35" y="64.91" width="208.9" height="1.35" fill="#fff" fill-opacity="0.7"/>
<rect x="577.35" y="68.29" width="208.9" height="1.35" fill="#fff" fill-opacity="0.7"/>
<rect x="577.35" y="71.66" width="208.9" height="1.35" fill="#fff" fill-opacity="0.7"/>
<rect x="577.35" y="75.03" width="208.9" height="1.35" fill="#fff" fill-opacity="0.7"/>
<rect x="577.35" y="78.41" width="208.9" height="1.35" fill="#fff" fill-opacity="0.7"/>
<rect x="577.35" y="81.78" width="208.9" height="1.35" fill="#fff" fill-opacity="0.7"/>
<rect x="577.35" y="85.16" width="208.9" height="1.35" fill="#fff" fill-opacity="0.7"/>
<rect x="577.35" y="88.53" width="208.9" height="1.35" fill="#fff" fill-opacity="0.7"/>
<rect x="577.35" y="91.9" width="208.9" height="1.35" fill="#fff" fill-opacity="0.7"/>
<rect x="577.35" y="95.28" width="208.9" height="1.35" fill="#fff" fill-opacity="0.7"/>
<rect x="577.35" y="98.65" width="208.9" height="1.35" fill="#fff" fill-opacity="0.7"/>
<rect x="577.35" y="102.03" width="208.9" height="1.35" fill="#fff" fill-opacity="0.7"/>
<rect x="577.35" y="112.15" width="208.9" height="1.35" fill="#fff" fill-opacity="0.7"/>
<rect x="577.35" y="115.52" width="208.9" height="1.35" fill="#fff" fill-opacity="0.7"/>
<rect x="577.35" y="118.9" width="208.9" height="1.35" fill="#fff" fill-opacity="0.7"/>
<rect x="577.35" y="122.27" width="208.9" height="1.35" fill="#fff" fill-opacity="0.7"/>
<rect x="577.35" y="125.64" width="208.9" height="1.35" fill="#fff" fill-opacity="0.7"/>
<rect x="577.35" y="129.02" width="208.9" height="1.35" fill="#fff" fill-opacity="0.7"/>
<rect x="577.35" y="132.39" width="208.9" height="1.35" fill="#fff" fill-opacity="0.7"/>
<rect x="577.35" y="135.77" width="208.9" height="1.35" fill="#fff" fill-opacity="0.7"/>
<rect x="577.35" y="139.14" width="208.9" height="1.35" fill="#fff" fill-opacity="0.7"/>
<rect x="577.35" y="142.51" width="208.9" height="1.35" fill="#fff" fill-opacity="0.7"/>
<rect x="577.35" y="145.89" width="208.9" height="1.35" fill="#fff" fill-opacity="0.7"/>
<rect x="577.35" y="149.26" width="208.9" height="1.35" fill="#fff" fill-opacity="0.7"/>
<rect x="577.35" y="152.64" width="208.9" height="1.35" fill="#fff" fill-opacity="0.7"/>
<rect x="577.35" y="156.01" width="208.9" height="1.35" fill="#fff" fill-opacity="0.7"/>
<rect x="577.35" y="159.38" width="208.9" height="1.35" fill="#fff" fill-opacity="0.7"/>
<rect x="577.35" y="162.76" width="208.9" height="1.35" fill="#fff" fill-opacity="0.7"/>
<rect x="577.35" y="166.13" width="208.9" height="1.35" fill="#fff" fill-opacity="0.7"/>
<rect x="577.35" y="169.51" width="208.9" height="1.35" fill="#fff" fill-opacity="0.7"/>
<rect x="577.35" y="172.88" width="208.9" height="1.35" fill="#fff" fill-opacity="0.7"/>
<rect x="577.35" y="176.25" width="208.9" height="1.35" fill="#fff" fill-opacity="0.7"/>
<rect x="577.35" y="179.63" width="208.9" height="1.35" fill="#fff" fill-opacity="0.7"/>
<rect x="577.35" y="183" width="208.9" height="1.35" fill="#fff" fill-opacity="0.7"/>
<rect x="577.35" y="186.38" width="208.9" height="1.35" fill="#fff" fill-opacity="0.7"/>
<rect x="577.35" y="196.5" width="208.9" height="1.35" fill="#fff" fill-opacity="0.7"/>
<rect x="577.35" y="199.87" width="208.9" height="1.35" fill="#fff" fill-opacity="0.7"/>
<rect x="577.35" y="203.25" width="208.9" height="1.35" fill="#fff" fill-opacity="0.7"/>
<rect x="577.35" y="206.62" width="208.9" height="1.35" fill="#fff" fill-opacity="0.7"/>
<rect x="577.35" y="209.99" width="208.9" height="1.35" fill="#fff" fill-opacity="0.7"/>
<rect x="577.35" y="213.37" width="208.9" height="1.35" fill="#fff" fill-opacity="0.7"/>
<rect x="577.35" y="216.74" width="208.9" height="1.35" fill="#fff" fill-opacity="0.7"/>
<rect x="577.35" y="220.12" width="208.9" height="1.35" fill="#fff" fill-opacity="0.7"/>
<rect x="577.35" y="223.49" width="208.9" height="1.35" fill="#fff" fill-opacity="0.7"/>
<rect x="577.35" y="226.86" width="208.9" height="1.35" fill="#fff" fill-opacity="0.7"/>
<rect x="577.35" y="230.24" width="208.9" height="1.35" fill="#fff" fill-opacity="0.7"/>
<rect x="577.35" y="233.61" width="208.9" height="1.35" fill="#fff" fill-opacity="0.7"/>
<rect x="577.35" y="236.99" width="208.9" height="1.35" fill="#fff" fill-opacity="0.7"/>
<rect x="577.35" y="240.36" width="208.9" height="1.35" fill="#fff" fill-opacity="0.7"/>
<rect x="577.35" y="243.73" width="208.9" height="1.35" fill="#fff" fill-opacity="0.7"/>
<rect x="577.35" y="247.11" width="208.9" height="1.35" fill="#fff" fill-opacity="0.7"/>
<rect x="577.35" y="250.48" width="208.9" height="1.35" fill="#fff" fill-opacity="0.7"/>
<rect x="577.35" y="253.86" width="208.9" height="1.35" fill="#fff" fill-opacity="0.7"/>
<rect x="577.35" y="257.23" width="208.9" height="1.35" fill="#fff" fill-opacity="0.7"/>
<rect x="577.35" y="260.6" width="208.9" height="1.35" fill="#fff" fill-opacity="0.7"/>
<rect x="577.35" y="263.98" width="208.9" height="1.35" fill="#fff" fill-opacity="0.7"/>
<rect x="577.35" y="267.35" width="208.9" height="1.35" fill="#fff" fill-opacity="0.7"/>
<rect x="577.35" y="277.47" width="208.9" height="1.35" fill="#fff" fill-opacity="0.7"/>
<rect x="577.35" y="280.85" width="208.9" height="1.35" fill="#fff" fill-opacity="0.7"/>
<rect x="577.35" y="284.22" width="208.9" height="1.35" fill="#fff" fill-opacity="0.7"/>
<rect x="577.35" y="287.6" width="208.9" height="1.35" fill="#fff" fill-opacity="0.7"/>
<rect x="577.35" y="290.97" width="208.9" height="1.35" fill="#fff" fill-opacity="0.7"/>
<rect x="577.35" y="294.34" width="208.9" height="1.35" fill="#fff" fill-opacity="0.7"/>
<rect x="577.35" y="297.72" width="208.9" height="1.35" fill="#fff" fill-opacity="0.7"/>
<rect x="577.35" y="301.09" width="208.9" height="1.35" fill="#fff" fill-opacity="0.7"/>
<rect x="577.35" y="304.47" width="208.9" height="1.35" fill="#fff" fill-opacity="0.7"/>
<rect x="577.35" y="307.84" width="208.9" height="1.35" fill="#fff" fill-opacity="0.7"/>
<rect x="577.35" y="311.21" width="208.9" height="1.35" fill="#fff" fill-opacity="0.7"/>
<rect x="577.35" y="314.59" width="208.9" height="1.35" fill="#fff" fill-opacity="0.7"/>
<rect x="577.35" y="317.96" width="208.9" height="1.35" fill="#fff" fill-opacity="0.7"/>
<rect x="577.35" y="321.34" width="208.9" height="1.35" fill="#fff" fill-opacity="0.7"/>
<rect x="577.35" y="324.71" width="208.9" height="1.35" fill="#fff" fill-opacity="0.7"/>
<rect x="577.35" y="328.08" width="208.9" height="1.35" fill="#fff" fill-opacity="0.7"/>
<rect x="577.35" y="331.46" width="208.9" height="1.35" fill="#fff" fill-opacity="0.7"/>
<rect x="577.35" y="334.83" width="208.9" height="1.35" fill="#fff" fill-opacity="0.7"/>
<rect x="577.35" y="338.21" width="208.9" height="1.35" fill="#fff" fill-opacity="0.7"/>
<rect x="577.35" y="341.58" width="208.9" height="1.35" fill="#fff" fill-opacity="0.7"/>
<rect x="577.35" y="344.95" width="208.9" height="1.35" fill="#fff" fill-opacity="0.7"/>
<rect x="577.35" y="348.33" width="208.9" height="1.35" fill="#fff" fill-opacity="0.7"/>
<rect x="577.35" y="351.7" width="208.9" height="1.35" fill="#fff" fill-opacity="0.7"/>
<rect x="577.35" y="361.82" width="208.9" height="1.35" fill="#fff" fill-opacity="0.7"/>
<rect x="577.35" y="365.2" width="208.9" height="1.35" fill="#fff" fill-opacity="0.7"/>
<rect x="577.35" y="368.57" width="208.9" height="1.35" fill="#fff" fill-opacity="0.7"/>
<rect x="577.35" y="371.95" width="208.9" height="1.35" fill="#fff" fill-opacity="0.7"/>
<rect x="577.35" y="375.32" width="208.9" height="1.35" fill="#fff" fill-opacity="0.7"/>
<rect x="577.35" y="378.69" width="208.9" height="1.35" fill="#fff" fill-opacity="0.7"/>
<rect x="577.35" y="382.07" width="208.9" height="1.35" fill="#fff" fill-opacity="0.7"/>
<rect x="577.35" y="385.44" width="208.9" height="1.35" fill="#fff" fill-opacity="0.7"/>
<rect x="577.35" y="388.82" width="208.9" height="1.35" fill="#fff" fill-opacity="0.7"/>
<rect x="577.35" y="392.19" width="208.9" height="1.35" fill="#fff" fill-opacity="0.7"/>
<rect x="577.35" y="395.56" width="208.9" height="1.35" fill="#fff" fill-opacity="0.7"/>
<rect x="577.35" y="398.94" width="208.9" height="1.35" fill="#fff" fill-opacity="0.7"/>
<rect x="577.35" y="402.31" width="208.9" height="1.35" fill="#fff" fill-opacity="0.7"/>
<rect x="577.35" y="405.69" width="208.9" height="1.35" fill="#fff" fill-opacity="0.7"/>
<rect x="577.35" y="409.06" width="208.9" height="1.35" fill="#fff" fill-opacity="0.7"/>
<rect x="577.35" y="412.43" width="208.9" height="1.35" fill="#fff" fill-opacity="0.7"/>
<rect x="577.35" y="415.81" width="208.9" height="1.35" fill="#fff" fill-opacity="0.7"/>
<rect x="577.35" y="419.18" width="208.9" height="1.35" fill="#fff" fill-opacity="0.7"/>
<rect x="577.35" y="422.56" width="208.9" height="1.35" fill="#fff" fill-opacity="0.7"/>
<rect x="577.35" y="425.93" width="208.9" height="1.35" fill="#fff" fill-opacity="0.7"/>
<rect x="577.35" y="429.3" width="208.9" height="1.35" fill="#fff" fill-opacity="0.7"/>
<rect x="577.35" y="432.68" width="208.9" height="1.35" fill="#fff" fill-opacity="0.7"/>
<rect x="577.35" y="436.05" width="208.9" height="1.35" fill="#fff" fill-opacity="0.7"/>
<line x1="577.35" y1="107.36" x2="786.25" y2="107.36" stroke="#7e7e7e" stroke-width="0.8" stroke-dasharray="2.6 2.7"/>
<line x1="619.13" y1="106.46" x2="619.13" y2="109.26" stroke="#666" stroke-width="0.8"/>
<line x1="660.91" y1="106.46" x2="660.91" y2="109.26" stroke="#666" stroke-width="0.8"/>
<line x1="702.69" y1="106.46" x2="702.69" y2="109.26" stroke="#666" stroke-width="0.8"/>
<line x1="744.47" y1="106.46" x2="744.47" y2="109.26" stroke="#666" stroke-width="0.8"/>
<line x1="786.25" y1="106.46" x2="786.25" y2="109.26" stroke="#666" stroke-width="0.8"/>
<line x1="577.35" y1="191.71" x2="786.25" y2="191.71" stroke="#7e7e7e" stroke-width="0.8" stroke-dasharray="2.6 2.7"/>
<line x1="619.13" y1="190.81" x2="619.13" y2="193.61" stroke="#666" stroke-width="0.8"/>
<line x1="660.91" y1="190.81" x2="660.91" y2="193.61" stroke="#666" stroke-width="0.8"/>
<line x1="702.69" y1="190.81" x2="702.69" y2="193.61" stroke="#666" stroke-width="0.8"/>
<line x1="744.47" y1="190.81" x2="744.47" y2="193.61" stroke="#666" stroke-width="0.8"/>
<line x1="786.25" y1="190.81" x2="786.25" y2="193.61" stroke="#666" stroke-width="0.8"/>
<line x1="577.35" y1="272.69" x2="786.25" y2="272.69" stroke="#7e7e7e" stroke-width="0.8" stroke-dasharray="2.6 2.7"/>
<line x1="619.13" y1="271.79" x2="619.13" y2="274.59" stroke="#666" stroke-width="0.8"/>
<line x1="660.91" y1="271.79" x2="660.91" y2="274.59" stroke="#666" stroke-width="0.8"/>
<line x1="702.69" y1="271.79" x2="702.69" y2="274.59" stroke="#666" stroke-width="0.8"/>
<line x1="744.47" y1="271.79" x2="744.47" y2="274.59" stroke="#666" stroke-width="0.8"/>
<line x1="786.25" y1="271.79" x2="786.25" y2="274.59" stroke="#666" stroke-width="0.8"/>
<line x1="577.35" y1="357.04" x2="786.25" y2="357.04" stroke="#7e7e7e" stroke-width="0.8" stroke-dasharray="2.6 2.7"/>
<line x1="619.13" y1="356.14" x2="619.13" y2="358.94" stroke="#666" stroke-width="0.8"/>
<line x1="660.91" y1="356.14" x2="660.91" y2="358.94" stroke="#666" stroke-width="0.8"/>
<line x1="702.69" y1="356.14" x2="702.69" y2="358.94" stroke="#666" stroke-width="0.8"/>
<line x1="744.47" y1="356.14" x2="744.47" y2="358.94" stroke="#666" stroke-width="0.8"/>
<line x1="786.25" y1="356.14" x2="786.25" y2="358.94" stroke="#666" stroke-width="0.8"/>
<line x1="577.35" y1="440.6" x2="786.25" y2="440.6" stroke="#dedede" stroke-width="0.7" stroke-dasharray="2 3"/>
<line x1="619.13" y1="25" x2="619.13" y2="27.5" stroke="#777" stroke-width="0.8"/>
<line x1="660.91" y1="25" x2="660.91" y2="27.5" stroke="#777" stroke-width="0.8"/>
<line x1="702.69" y1="25" x2="702.69" y2="27.5" stroke="#777" stroke-width="0.8"/>
<line x1="744.47" y1="25" x2="744.47" y2="27.5" stroke="#777" stroke-width="0.8"/>
<line x1="786.25" y1="25" x2="786.25" y2="27.5" stroke="#777" stroke-width="0.8"/>
<rect x="577.35" y="25" width="0.8" height="415" fill="#8088a8"/>
<rect x="577.35" y="25.4" width="2.4" height="80.08" fill="#6470a6"/>
<rect x="577.35" y="109.65" width="2.4" height="80.18" fill="#6470a6"/>
<rect x="577.35" y="194" width="2.4" height="76.8" fill="#6470a6"/>
<rect x="577.35" y="274.97" width="2.4" height="80.18" fill="#6470a6"/>
<rect x="577.35" y="359.32" width="2.4" height="80.18" fill="#6470a6"/>
</g>
<g filter="url(#tb)">
<text class="n" x="38.19" y="30.04" text-anchor="end" textLength="17" lengthAdjust="spacingAndGlyphs">2000</text>
<text class="n" x="38.19" y="46.91" text-anchor="end" textLength="8.2" lengthAdjust="spacingAndGlyphs">05</text>
<text class="n" x="38.19" y="63.78" text-anchor="end" textLength="8.2" lengthAdjust="spacingAndGlyphs">10</text>
<text class="n" x="38.19" y="80.65" text-anchor="end" textLength="8.2" lengthAdjust="spacingAndGlyphs">15</text>
<text class="n" x="38.19" y="97.52" text-anchor="end" textLength="8.2" lengthAdjust="spacingAndGlyphs">20</text>
<text class="n" x="38.19" y="107.64" text-anchor="end" textLength="17" lengthAdjust="spacingAndGlyphs">2023</text>
<text class="n" x="38.19" y="114.39" text-anchor="end" textLength="17" lengthAdjust="spacingAndGlyphs">2000</text>
<text class="n" x="38.19" y="131.26" text-anchor="end" textLength="8.2" lengthAdjust="spacingAndGlyphs">05</text>
<text class="n" x="38.19" y="148.13" text-anchor="end" textLength="8.2" lengthAdjust="spacingAndGlyphs">10</text>
<text class="n" x="38.19" y="165" text-anchor="end" textLength="8.2" lengthAdjust="spacingAndGlyphs">15</text>
<text class="n" x="38.19" y="181.87" text-anchor="end" textLength="8.2" lengthAdjust="spacingAndGlyphs">20</text>
<text class="n" x="38.19" y="191.99" text-anchor="end" textLength="17" lengthAdjust="spacingAndGlyphs">2023</text>
<text class="n" x="38.19" y="198.74" text-anchor="end" textLength="17" lengthAdjust="spacingAndGlyphs">2000</text>
<text class="n" x="38.19" y="215.61" text-anchor="end" textLength="8.2" lengthAdjust="spacingAndGlyphs">05</text>
<text class="n" x="38.19" y="232.48" text-anchor="end" textLength="8.2" lengthAdjust="spacingAndGlyphs">10</text>
<text class="n" x="38.19" y="249.35" text-anchor="end" textLength="8.2" lengthAdjust="spacingAndGlyphs">15</text>
<text class="n" x="38.19" y="266.22" text-anchor="end" textLength="8.2" lengthAdjust="spacingAndGlyphs">20</text>
<text class="n" x="38.19" y="272.96" text-anchor="end" textLength="17" lengthAdjust="spacingAndGlyphs">2022</text>
<text class="n" x="38.19" y="279.71" text-anchor="end" textLength="17" lengthAdjust="spacingAndGlyphs">2000</text>
<text class="n" x="38.19" y="296.58" text-anchor="end" textLength="8.2" lengthAdjust="spacingAndGlyphs">05</text>
<text class="n" x="38.19" y="313.45" text-anchor="end" textLength="8.2" lengthAdjust="spacingAndGlyphs">10</text>
<text class="n" x="38.19" y="330.32" text-anchor="end" textLength="8.2" lengthAdjust="spacingAndGlyphs">15</text>
<text class="n" x="38.19" y="347.19" text-anchor="end" textLength="8.2" lengthAdjust="spacingAndGlyphs">20</text>
<text class="n" x="38.19" y="357.31" text-anchor="end" textLength="17" lengthAdjust="spacingAndGlyphs">2023</text>
<text class="n" x="38.19" y="364.06" text-anchor="end" textLength="17" lengthAdjust="spacingAndGlyphs">2000</text>
<text class="n" x="38.19" y="380.93" text-anchor="end" textLength="8.2" lengthAdjust="spacingAndGlyphs">05</text>
<text class="n" x="38.19" y="397.8" text-anchor="end" textLength="8.2" lengthAdjust="spacingAndGlyphs">10</text>
<text class="n" x="38.19" y="414.67" text-anchor="end" textLength="8.2" lengthAdjust="spacingAndGlyphs">15</text>
<text class="n" x="38.19" y="431.54" text-anchor="end" textLength="8.2" lengthAdjust="spacingAndGlyphs">20</text>
<text class="n" x="38.19" y="441.66" text-anchor="end" textLength="17" lengthAdjust="spacingAndGlyphs">2023</text>
<text class="j" x="14.4" y="62.7" text-anchor="middle" font-size="8">日</text>
<text class="j" x="14.4" y="73.5" text-anchor="middle" font-size="8">本</text>
<text class="j" x="14.4" y="138.5" text-anchor="middle" font-size="8">米</text>
<text class="j" x="14.4" y="149.4" text-anchor="middle" font-size="8">国</text>
<text class="j" x="14.4" y="215.7" text-anchor="middle" font-size="9.4">フ</text>
<text class="j" x="14.4" y="227.4" text-anchor="middle" font-size="9.4">ラ</text>
<text class="j" x="14.4" y="238.5" text-anchor="middle" font-size="9.4">ン</text>
<text class="j" x="14.4" y="248.3" text-anchor="middle" font-size="9.4">ス</text>
<text class="j" x="14.4" y="315" text-anchor="middle" font-size="8">中</text>
<text class="j" x="14.4" y="325.8" text-anchor="middle" font-size="8">国</text>
<text class="j" x="14.4" y="393.3" text-anchor="middle" font-size="8">韓</text>
<text class="j" x="14.4" y="404.2" text-anchor="middle" font-size="8">国</text>
<text class="j" x="45.09" y="18.9" text-anchor="end" font-size="6.9" style="font-weight:500;stroke-width:0.2px">年</text>
<rect x="51" y="10.5" width="3" height="3" fill="#535e98"/>
<text class="j" x="55.6" y="15.2" font-size="8.5" style="font-weight:500;stroke-width:0.1px" textLength="34.1" lengthAdjust="spacingAndGlyphs">基礎研究</text>
<rect x="98.75" y="10.5" width="3" height="3" fill="#8fafd0"/>
<text class="j" x="103.75" y="15.2" font-size="8.5" style="font-weight:500;stroke-width:0.1px" textLength="33.75" lengthAdjust="spacingAndGlyphs">応用研究</text>
<rect x="146.9" y="10.5" width="3" height="3" fill="#c5d65c"/>
<text class="j" x="151.9" y="15.2" font-size="8.5" style="font-weight:500;stroke-width:0.1px" textLength="16.2" lengthAdjust="spacingAndGlyphs">開発</text>
<rect x="180.6" y="10.5" width="3" height="3" fill="#fdcf50"/>
<text class="j" x="185.6" y="15.2" font-size="8.5" style="font-weight:500;stroke-width:0.1px" textLength="33.4" lengthAdjust="spacingAndGlyphs">分類不能</text>
<text class="n" x="44.69" y="452.9" text-anchor="middle" textLength="8.4" lengthAdjust="spacingAndGlyphs">0%</text>
<text class="n" x="86.47" y="452.9" text-anchor="middle" textLength="12.8" lengthAdjust="spacingAndGlyphs">20%</text>
<text class="n" x="128.25" y="452.9" text-anchor="middle" textLength="12.8" lengthAdjust="spacingAndGlyphs">40%</text>
<text class="n" x="170.03" y="452.9" text-anchor="middle" textLength="12.8" lengthAdjust="spacingAndGlyphs">60%</text>
<text class="n" x="211.81" y="452.9" text-anchor="middle" textLength="12.8" lengthAdjust="spacingAndGlyphs">80%</text>
<text class="n" x="253.59" y="452.9" text-anchor="middle" textLength="16.6" lengthAdjust="spacingAndGlyphs">100%</text>
<text class="n" x="304.16" y="30.04" text-anchor="end" textLength="17" lengthAdjust="spacingAndGlyphs">2000</text>
<text class="n" x="304.16" y="46.91" text-anchor="end" textLength="8.2" lengthAdjust="spacingAndGlyphs">05</text>
<text class="n" x="304.16" y="63.78" text-anchor="end" textLength="8.2" lengthAdjust="spacingAndGlyphs">10</text>
<text class="n" x="304.16" y="80.65" text-anchor="end" textLength="8.2" lengthAdjust="spacingAndGlyphs">15</text>
<text class="n" x="304.16" y="97.52" text-anchor="end" textLength="8.2" lengthAdjust="spacingAndGlyphs">20</text>
<text class="n" x="304.16" y="107.64" text-anchor="end" textLength="17" lengthAdjust="spacingAndGlyphs">2023</text>
<text class="n" x="304.16" y="114.39" text-anchor="end" textLength="17" lengthAdjust="spacingAndGlyphs">2000</text>
<text class="n" x="304.16" y="131.26" text-anchor="end" textLength="8.2" lengthAdjust="spacingAndGlyphs">05</text>
<text class="n" x="304.16" y="148.13" text-anchor="end" textLength="8.2" lengthAdjust="spacingAndGlyphs">10</text>
<text class="n" x="304.16" y="165" text-anchor="end" textLength="8.2" lengthAdjust="spacingAndGlyphs">15</text>
<text class="n" x="304.16" y="181.87" text-anchor="end" textLength="8.2" lengthAdjust="spacingAndGlyphs">20</text>
<text class="n" x="304.16" y="191.99" text-anchor="end" textLength="17" lengthAdjust="spacingAndGlyphs">2023</text>
<text class="n" x="304.16" y="198.74" text-anchor="end" textLength="17" lengthAdjust="spacingAndGlyphs">2000</text>
<text class="n" x="304.16" y="215.61" text-anchor="end" textLength="8.2" lengthAdjust="spacingAndGlyphs">05</text>
<text class="n" x="304.16" y="232.48" text-anchor="end" textLength="8.2" lengthAdjust="spacingAndGlyphs">10</text>
<text class="n" x="304.16" y="249.35" text-anchor="end" textLength="8.2" lengthAdjust="spacingAndGlyphs">15</text>
<text class="n" x="304.16" y="266.22" text-anchor="end" textLength="8.2" lengthAdjust="spacingAndGlyphs">20</text>
<text class="n" x="304.16" y="272.96" text-anchor="end" textLength="17" lengthAdjust="spacingAndGlyphs">2022</text>
<text class="n" x="304.16" y="279.71" text-anchor="end" textLength="17" lengthAdjust="spacingAndGlyphs">2000</text>
<text class="n" x="304.16" y="296.58" text-anchor="end" textLength="8.2" lengthAdjust="spacingAndGlyphs">05</text>
<text class="n" x="304.16" y="313.45" text-anchor="end" textLength="8.2" lengthAdjust="spacingAndGlyphs">10</text>
<text class="n" x="304.16" y="330.32" text-anchor="end" textLength="8.2" lengthAdjust="spacingAndGlyphs">15</text>
<text class="n" x="304.16" y="347.19" text-anchor="end" textLength="8.2" lengthAdjust="spacingAndGlyphs">20</text>
<text class="n" x="304.16" y="357.31" text-anchor="end" textLength="17" lengthAdjust="spacingAndGlyphs">2023</text>
<text class="n" x="304.16" y="364.06" text-anchor="end" textLength="17" lengthAdjust="spacingAndGlyphs">2000</text>
<text class="n" x="304.16" y="380.93" text-anchor="end" textLength="8.2" lengthAdjust="spacingAndGlyphs">05</text>
<text class="n" x="304.16" y="397.8" text-anchor="end" textLength="8.2" lengthAdjust="spacingAndGlyphs">10</text>
<text class="n" x="304.16" y="414.67" text-anchor="end" textLength="8.2" lengthAdjust="spacingAndGlyphs">15</text>
<text class="n" x="304.16" y="431.54" text-anchor="end" textLength="8.2" lengthAdjust="spacingAndGlyphs">20</text>
<text class="n" x="304.16" y="441.66" text-anchor="end" textLength="17" lengthAdjust="spacingAndGlyphs">2023</text>
<text class="j" x="274.6" y="59" text-anchor="middle" font-size="8">日</text>
<text class="j" x="274.6" y="69.4" text-anchor="middle" font-size="8">本</text>
<text class="j" x="274.6" y="144.8" text-anchor="middle" font-size="8">米</text>
<text class="j" x="274.6" y="155.7" text-anchor="middle" font-size="8">国</text>
<text class="j" x="274.6" y="218.3" text-anchor="middle" font-size="9.4">フ</text>
<text class="j" x="274.6" y="229.1" text-anchor="middle" font-size="9.4">ラ</text>
<text class="j" x="274.6" y="239.9" text-anchor="middle" font-size="9.4">ン</text>
<text class="j" x="274.6" y="250.7" text-anchor="middle" font-size="9.4">ス</text>
<text class="j" x="274.6" y="314.6" text-anchor="middle" font-size="8">中</text>
<text class="j" x="274.6" y="325.9" text-anchor="middle" font-size="8">国</text>
<text class="j" x="274.6" y="396" text-anchor="middle" font-size="8">韓</text>
<text class="j" x="274.6" y="406.9" text-anchor="middle" font-size="8">国</text>
<text class="j" x="311.06" y="18.9" text-anchor="end" font-size="6.9" style="font-weight:500;stroke-width:0.2px">年</text>
<rect x="325" y="10.5" width="3" height="3" fill="#535e98"/>
<text class="j" x="330.6" y="15.9" font-size="9.3" style="font-weight:500;stroke-width:0.15px" textLength="37.5" lengthAdjust="spacingAndGlyphs">基礎研究</text>
<rect x="376" y="10.5" width="3" height="3" fill="#8fafd0"/>
<text class="j" x="381.9" y="15.9" font-size="9.3" style="font-weight:500;stroke-width:0.15px" textLength="37.3" lengthAdjust="spacingAndGlyphs">応用研究</text>
<rect x="427.4" y="10.5" width="3" height="3" fill="#c5d65c"/>
<text class="j" x="432.2" y="15.9" font-size="9.3" style="font-weight:500;stroke-width:0.15px" textLength="18.8" lengthAdjust="spacingAndGlyphs">開発</text>
<rect x="462.7" y="10.5" width="3" height="3" fill="#fdcf50"/>
<text class="j" x="468.2" y="15.9" font-size="9.3" style="font-weight:500;stroke-width:0.15px" textLength="36.8" lengthAdjust="spacingAndGlyphs">分類不能</text>
<text class="n" x="310.66" y="452.9" text-anchor="middle" textLength="8.4" lengthAdjust="spacingAndGlyphs">0%</text>
<text class="n" x="352.44" y="452.9" text-anchor="middle" textLength="12.8" lengthAdjust="spacingAndGlyphs">20%</text>
<text class="n" x="394.22" y="452.9" text-anchor="middle" textLength="12.8" lengthAdjust="spacingAndGlyphs">40%</text>
<text class="n" x="436" y="452.9" text-anchor="middle" textLength="12.8" lengthAdjust="spacingAndGlyphs">60%</text>
<text class="n" x="477.78" y="452.9" text-anchor="middle" textLength="12.8" lengthAdjust="spacingAndGlyphs">80%</text>
<text class="n" x="519.56" y="452.9" text-anchor="middle" textLength="16.6" lengthAdjust="spacingAndGlyphs">100%</text>
<text class="n" x="571.45" y="30.04" text-anchor="end" textLength="17" lengthAdjust="spacingAndGlyphs">2000</text>
<text class="n" x="571.45" y="46.91" text-anchor="end" textLength="8.2" lengthAdjust="spacingAndGlyphs">05</text>
<text class="n" x="571.45" y="63.78" text-anchor="end" textLength="8.2" lengthAdjust="spacingAndGlyphs">10</text>
<text class="n" x="571.45" y="80.65" text-anchor="end" textLength="8.2" lengthAdjust="spacingAndGlyphs">15</text>
<text class="n" x="571.45" y="97.52" text-anchor="end" textLength="8.2" lengthAdjust="spacingAndGlyphs">20</text>
<text class="n" x="571.45" y="107.64" text-anchor="end" textLength="17" lengthAdjust="spacingAndGlyphs">2023</text>
<text class="n" x="571.45" y="114.39" text-anchor="end" textLength="17" lengthAdjust="spacingAndGlyphs">2000</text>
<text class="n" x="571.45" y="131.26" text-anchor="end" textLength="8.2" lengthAdjust="spacingAndGlyphs">05</text>
<text class="n" x="571.45" y="148.13" text-anchor="end" textLength="8.2" lengthAdjust="spacingAndGlyphs">10</text>
<text class="n" x="571.45" y="165" text-anchor="end" textLength="8.2" lengthAdjust="spacingAndGlyphs">15</text>
<text class="n" x="571.45" y="181.87" text-anchor="end" textLength="8.2" lengthAdjust="spacingAndGlyphs">20</text>
<text class="n" x="571.45" y="191.99" text-anchor="end" textLength="17" lengthAdjust="spacingAndGlyphs">2023</text>
<text class="n" x="571.45" y="198.74" text-anchor="end" textLength="17" lengthAdjust="spacingAndGlyphs">2000</text>
<text class="n" x="571.45" y="215.61" text-anchor="end" textLength="8.2" lengthAdjust="spacingAndGlyphs">05</text>
<text class="n" x="571.45" y="232.48" text-anchor="end" textLength="8.2" lengthAdjust="spacingAndGlyphs">10</text>
<text class="n" x="571.45" y="249.35" text-anchor="end" textLength="8.2" lengthAdjust="spacingAndGlyphs">15</text>
<text class="n" x="571.45" y="266.22" text-anchor="end" textLength="8.2" lengthAdjust="spacingAndGlyphs">20</text>
<text class="n" x="571.45" y="272.96" text-anchor="end" textLength="17" lengthAdjust="spacingAndGlyphs">2022</text>
<text class="n" x="571.45" y="279.71" text-anchor="end" textLength="17" lengthAdjust="spacingAndGlyphs">2000</text>
<text class="n" x="571.45" y="296.58" text-anchor="end" textLength="8.2" lengthAdjust="spacingAndGlyphs">05</text>
<text class="n" x="571.45" y="313.45" text-anchor="end" textLength="8.2" lengthAdjust="spacingAndGlyphs">10</text>
<text class="n" x="571.45" y="330.32" text-anchor="end" textLength="8.2" lengthAdjust="spacingAndGlyphs">15</text>
<text class="n" x="571.45" y="347.19" text-anchor="end" textLength="8.2" lengthAdjust="spacingAndGlyphs">20</text>
<text class="n" x="571.45" y="357.31" text-anchor="end" textLength="17" lengthAdjust="spacingAndGlyphs">2023</text>
<text class="n" x="571.45" y="364.06" text-anchor="end" textLength="17" lengthAdjust="spacingAndGlyphs">2000</text>
<text class="n" x="571.45" y="380.93" text-anchor="end" textLength="8.2" lengthAdjust="spacingAndGlyphs">05</text>
<text class="n" x="571.45" y="397.8" text-anchor="end" textLength="8.2" lengthAdjust="spacingAndGlyphs">10</text>
<text class="n" x="571.45" y="414.67" text-anchor="end" textLength="8.2" lengthAdjust="spacingAndGlyphs">15</text>
<text class="n" x="571.45" y="431.54" text-anchor="end" textLength="8.2" lengthAdjust="spacingAndGlyphs">20</text>
<text class="n" x="571.45" y="441.66" text-anchor="end" textLength="17" lengthAdjust="spacingAndGlyphs">2023</text>
<text class="j" x="541.5" y="58.6" text-anchor="middle" font-size="8">日</text>
<text class="j" x="541.5" y="70.4" text-anchor="middle" font-size="8">本</text>
<text class="j" x="541.5" y="142.7" text-anchor="middle" font-size="8">米</text>
<text class="j" x="541.5" y="153.5" text-anchor="middle" font-size="8">国</text>
<text class="j" x="541.5" y="217.6" text-anchor="middle" font-size="9.4">フ</text>
<text class="j" x="541.5" y="228.4" text-anchor="middle" font-size="9.4">ラ</text>
<text class="j" x="541.5" y="239.2" text-anchor="middle" font-size="9.4">ン</text>
<text class="j" x="541.5" y="250" text-anchor="middle" font-size="9.4">ス</text>
<text class="j" x="541.5" y="311.8" text-anchor="middle" font-size="8">中</text>
<text class="j" x="541.5" y="323.1" text-anchor="middle" font-size="8">国</text>
<text class="j" x="541.5" y="393.5" text-anchor="middle" font-size="8">韓</text>
<text class="j" x="541.5" y="404.4" text-anchor="middle" font-size="8">国</text>
<text class="j" x="578.35" y="18.9" text-anchor="end" font-size="6.9" style="font-weight:500;stroke-width:0.2px">年</text>
<rect x="592.7" y="10.5" width="3" height="3" fill="#535e98"/>
<text class="j" x="598" y="15.9" font-size="9.3" style="font-weight:500;stroke-width:0.15px" textLength="36.7" lengthAdjust="spacingAndGlyphs">基礎研究</text>
<rect x="643.7" y="10.5" width="3" height="3" fill="#8fafd0"/>
<text class="j" x="649" y="15.9" font-size="9.3" style="font-weight:500;stroke-width:0.15px" textLength="37.5" lengthAdjust="spacingAndGlyphs">応用研究</text>
<rect x="695" y="10.5" width="3" height="3" fill="#c5d65c"/>
<text class="j" x="700.2" y="15.9" font-size="9.3" style="font-weight:500;stroke-width:0.15px" textLength="18.5" lengthAdjust="spacingAndGlyphs">開発</text>
<rect x="730.2" y="10.5" width="3" height="3" fill="#fdcf50"/>
<text class="j" x="735.5" y="15.9" font-size="9.3" style="font-weight:500;stroke-width:0.15px" textLength="37.5" lengthAdjust="spacingAndGlyphs">分類不能</text>
<text class="n" x="577.95" y="452.9" text-anchor="middle" textLength="8.4" lengthAdjust="spacingAndGlyphs">0%</text>
<text class="n" x="619.73" y="452.9" text-anchor="middle" textLength="12.8" lengthAdjust="spacingAndGlyphs">20%</text>
<text class="n" x="661.51" y="452.9" text-anchor="middle" textLength="12.8" lengthAdjust="spacingAndGlyphs">40%</text>
<text class="n" x="703.29" y="452.9" text-anchor="middle" textLength="12.8" lengthAdjust="spacingAndGlyphs">60%</text>
<text class="n" x="745.07" y="452.9" text-anchor="middle" textLength="12.8" lengthAdjust="spacingAndGlyphs">80%</text>
<text class="n" x="786.85" y="452.9" text-anchor="middle" textLength="16.6" lengthAdjust="spacingAndGlyphs">100%</text>
</g>
</svg></body></html>
